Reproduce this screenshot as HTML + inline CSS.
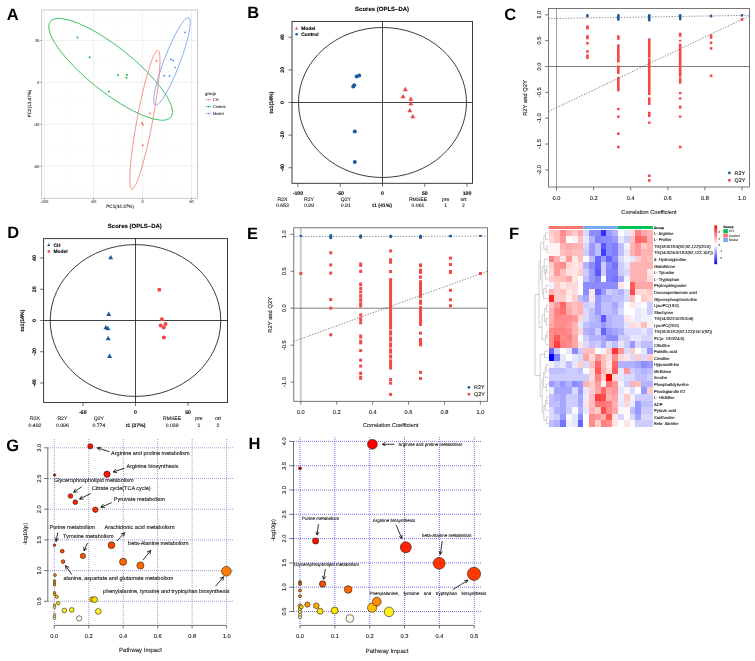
<!DOCTYPE html>
<html><head><meta charset="utf-8"><style>
html,body{margin:0;padding:0;background:#fff;}
svg{display:block;font-family:"Liberation Sans", sans-serif;will-change:transform;text-rendering:geometricPrecision;filter:blur(0.3px);}
</style></head><body>
<svg width="755" height="661" viewBox="0 0 755 661">
<rect x="0" y="0" width="755" height="661" fill="#fff"/>
<text transform="translate(6.8 19.95)" font-size="16.5" text-anchor="start" fill="#000" font-weight="bold">A</text>
<line x1="69" y1="10" x2="69" y2="198.3" stroke="#F4F4F4" stroke-width="0.5"/>
<line x1="118" y1="10" x2="118" y2="198.3" stroke="#F4F4F4" stroke-width="0.5"/>
<line x1="167" y1="10" x2="167" y2="198.3" stroke="#F4F4F4" stroke-width="0.5"/>
<line x1="41.7" y1="19.55" x2="197.6" y2="19.55" stroke="#F4F4F4" stroke-width="0.5"/>
<line x1="41.7" y1="61.45" x2="197.6" y2="61.45" stroke="#F4F4F4" stroke-width="0.5"/>
<line x1="41.7" y1="103.35" x2="197.6" y2="103.35" stroke="#F4F4F4" stroke-width="0.5"/>
<line x1="41.7" y1="145.25" x2="197.6" y2="145.25" stroke="#F4F4F4" stroke-width="0.5"/>
<line x1="41.7" y1="187.15" x2="197.6" y2="187.15" stroke="#F4F4F4" stroke-width="0.5"/>
<line x1="44.5" y1="10" x2="44.5" y2="198.3" stroke="#E6E6E6" stroke-width="0.6"/>
<line x1="93.5" y1="10" x2="93.5" y2="198.3" stroke="#E6E6E6" stroke-width="0.6"/>
<line x1="142.5" y1="10" x2="142.5" y2="198.3" stroke="#E6E6E6" stroke-width="0.6"/>
<line x1="191.5" y1="10" x2="191.5" y2="198.3" stroke="#E6E6E6" stroke-width="0.6"/>
<line x1="41.7" y1="40.5" x2="197.6" y2="40.5" stroke="#E6E6E6" stroke-width="0.6"/>
<line x1="41.7" y1="82.4" x2="197.6" y2="82.4" stroke="#E6E6E6" stroke-width="0.6"/>
<line x1="41.7" y1="124.3" x2="197.6" y2="124.3" stroke="#E6E6E6" stroke-width="0.6"/>
<line x1="41.7" y1="166.2" x2="197.6" y2="166.2" stroke="#E6E6E6" stroke-width="0.6"/>
<rect x="41.7" y="10" width="155.9" height="188.3" fill="none" stroke="#C4C4C4" stroke-width="0.9"/>
<line x1="44.5" y1="198.3" x2="44.5" y2="199.8" stroke="#555" stroke-width="0.5"/>
<text transform="translate(44.5 203.17) scale(0.1)" font-size="38" text-anchor="middle" fill="#4D4D4D" stroke="#4D4D4D" stroke-width="1">-100</text>
<line x1="93.5" y1="198.3" x2="93.5" y2="199.8" stroke="#555" stroke-width="0.5"/>
<text transform="translate(93.5 203.17) scale(0.1)" font-size="38" text-anchor="middle" fill="#4D4D4D" stroke="#4D4D4D" stroke-width="1">-50</text>
<line x1="142.5" y1="198.3" x2="142.5" y2="199.8" stroke="#555" stroke-width="0.5"/>
<text transform="translate(142.5 203.17) scale(0.1)" font-size="38" text-anchor="middle" fill="#4D4D4D" stroke="#4D4D4D" stroke-width="1">0</text>
<line x1="191.5" y1="198.3" x2="191.5" y2="199.8" stroke="#555" stroke-width="0.5"/>
<text transform="translate(191.5 203.17) scale(0.1)" font-size="38" text-anchor="middle" fill="#4D4D4D" stroke="#4D4D4D" stroke-width="1">50</text>
<line x1="40.2" y1="40.5" x2="41.7" y2="40.5" stroke="#555" stroke-width="0.5"/>
<text transform="translate(39.4 41.87) scale(0.1)" font-size="38" text-anchor="end" fill="#4D4D4D" stroke="#4D4D4D" stroke-width="1">25</text>
<line x1="40.2" y1="82.4" x2="41.7" y2="82.4" stroke="#555" stroke-width="0.5"/>
<text transform="translate(39.4 83.77) scale(0.1)" font-size="38" text-anchor="end" fill="#4D4D4D" stroke="#4D4D4D" stroke-width="1">0</text>
<line x1="40.2" y1="124.3" x2="41.7" y2="124.3" stroke="#555" stroke-width="0.5"/>
<text transform="translate(39.4 125.67) scale(0.1)" font-size="38" text-anchor="end" fill="#4D4D4D" stroke="#4D4D4D" stroke-width="1">-25</text>
<line x1="40.2" y1="166.2" x2="41.7" y2="166.2" stroke="#555" stroke-width="0.5"/>
<text transform="translate(39.4 167.57) scale(0.1)" font-size="38" text-anchor="end" fill="#4D4D4D" stroke="#4D4D4D" stroke-width="1">-50</text>
<text transform="translate(120.1 208.36) scale(0.1)" font-size="46" text-anchor="middle" fill="#222" stroke="#222" stroke-width="1">PC1(34.27%)</text>
<text transform="translate(31.46 103.5) rotate(-90) scale(0.1)" font-size="46" text-anchor="middle" fill="#222" stroke="#222" stroke-width="1">PC2(13.47%)</text>
<ellipse cx="110.6" cy="69.3" rx="76.9" ry="22.5" transform="rotate(38.45 110.6 69.3)" fill="none" stroke="#2DBE5A" stroke-width="0.85"/>
<ellipse cx="172" cy="61.5" rx="46.9" ry="7.9" transform="rotate(110.9 172 61.5)" fill="none" stroke="#6E9EF5" stroke-width="0.75"/>
<ellipse cx="144.9" cy="119.8" rx="70.8" ry="7.8" transform="rotate(100.6 144.9 119.8)" fill="none" stroke="#F47D74" stroke-width="0.75"/>
<circle cx="77.5" cy="37.4" r="0.95" fill="#19B449" stroke="none" stroke-width="0.5"/>
<circle cx="89.6" cy="57.2" r="0.95" fill="#19B449" stroke="none" stroke-width="0.5"/>
<circle cx="118" cy="75" r="0.95" fill="#19B449" stroke="none" stroke-width="0.5"/>
<circle cx="126.9" cy="75" r="0.95" fill="#19B449" stroke="none" stroke-width="0.5"/>
<circle cx="126.4" cy="77.8" r="0.95" fill="#19B449" stroke="none" stroke-width="0.5"/>
<circle cx="108.9" cy="91.6" r="0.95" fill="#19B449" stroke="none" stroke-width="0.5"/>
<circle cx="184.9" cy="32.4" r="0.95" fill="#5F97F5" stroke="none" stroke-width="0.5"/>
<circle cx="171" cy="59.3" r="0.95" fill="#5F97F5" stroke="none" stroke-width="0.5"/>
<circle cx="173.2" cy="60.5" r="0.95" fill="#5F97F5" stroke="none" stroke-width="0.5"/>
<circle cx="175.2" cy="67.6" r="0.95" fill="#5F97F5" stroke="none" stroke-width="0.5"/>
<circle cx="164.2" cy="75.7" r="0.95" fill="#5F97F5" stroke="none" stroke-width="0.5"/>
<circle cx="169.5" cy="76" r="0.95" fill="#5F97F5" stroke="none" stroke-width="0.5"/>
<circle cx="156.6" cy="61" r="0.95" fill="#F36B62" stroke="none" stroke-width="0.5"/>
<circle cx="149.9" cy="113.4" r="0.95" fill="#F36B62" stroke="none" stroke-width="0.5"/>
<circle cx="142" cy="123" r="0.95" fill="#F36B62" stroke="none" stroke-width="0.5"/>
<circle cx="143" cy="124.7" r="0.95" fill="#F36B62" stroke="none" stroke-width="0.5"/>
<circle cx="142.7" cy="145.3" r="0.95" fill="#F36B62" stroke="none" stroke-width="0.5"/>
<text transform="translate(205 94.65) scale(0.1)" font-size="43" text-anchor="start" fill="#222" stroke="#222" stroke-width="1">group</text>
<line x1="205.6" y1="99.7" x2="211.4" y2="99.7" stroke="#F8766D" stroke-width="0.6"/>
<circle cx="208.5" cy="99.7" r="0.8" fill="#F8766D" stroke="none" stroke-width="0.5"/>
<text transform="translate(212.9 101.1) scale(0.1)" font-size="39" text-anchor="start" fill="#333" stroke="#333" stroke-width="1">CH</text>
<line x1="205.6" y1="106.6" x2="211.4" y2="106.6" stroke="#00BA38" stroke-width="0.6"/>
<circle cx="208.5" cy="106.6" r="0.8" fill="#00BA38" stroke="none" stroke-width="0.5"/>
<text transform="translate(212.9 108) scale(0.1)" font-size="39" text-anchor="start" fill="#333" stroke="#333" stroke-width="1">Control</text>
<line x1="205.6" y1="113.6" x2="211.4" y2="113.6" stroke="#619CFF" stroke-width="0.6"/>
<circle cx="208.5" cy="113.6" r="0.8" fill="#619CFF" stroke="none" stroke-width="0.5"/>
<text transform="translate(212.9 115) scale(0.1)" font-size="39" text-anchor="start" fill="#333" stroke="#333" stroke-width="1">Model</text>
<text transform="translate(247.3 17.65)" font-size="16.5" text-anchor="start" fill="#000" font-weight="bold">B</text>
<text transform="translate(382.1 11.16) scale(0.1)" font-size="60" text-anchor="middle" fill="#000" font-weight="bold" stroke="#000" stroke-width="1">Scores (OPLS–DA)</text>
<rect x="292" y="21.5" width="180.5" height="161.8" fill="none" stroke="#333" stroke-width="0.95"/>
<ellipse cx="382.5" cy="102.5" rx="84" ry="75" fill="none" stroke="#1A1A1A" stroke-width="0.85"/>
<line x1="382.5" y1="21.5" x2="382.5" y2="183.3" stroke="#222" stroke-width="0.85"/>
<line x1="292" y1="102.5" x2="472.5" y2="102.5" stroke="#222" stroke-width="0.85"/>
<line x1="297.94" y1="183.3" x2="297.94" y2="186.8" stroke="#333" stroke-width="0.7"/>
<text transform="translate(297.94 194.97) scale(0.1)" font-size="52" text-anchor="middle" fill="#000" font-weight="bold" stroke="#000" stroke-width="1">-100</text>
<line x1="340.22" y1="183.3" x2="340.22" y2="186.8" stroke="#333" stroke-width="0.7"/>
<text transform="translate(340.22 194.97) scale(0.1)" font-size="52" text-anchor="middle" fill="#000" font-weight="bold" stroke="#000" stroke-width="1">-50</text>
<line x1="382.5" y1="183.3" x2="382.5" y2="186.8" stroke="#333" stroke-width="0.7"/>
<text transform="translate(382.5 194.97) scale(0.1)" font-size="52" text-anchor="middle" fill="#000" font-weight="bold" stroke="#000" stroke-width="1">0</text>
<line x1="424.78" y1="183.3" x2="424.78" y2="186.8" stroke="#333" stroke-width="0.7"/>
<text transform="translate(424.78 194.97) scale(0.1)" font-size="52" text-anchor="middle" fill="#000" font-weight="bold" stroke="#000" stroke-width="1">50</text>
<line x1="467.06" y1="183.3" x2="467.06" y2="186.8" stroke="#333" stroke-width="0.7"/>
<text transform="translate(467.06 194.97) scale(0.1)" font-size="52" text-anchor="middle" fill="#000" font-weight="bold" stroke="#000" stroke-width="1">100</text>
<line x1="288.5" y1="37.22" x2="292" y2="37.22" stroke="#333" stroke-width="0.7"/>
<text transform="translate(284.47 37.22) rotate(-90) scale(0.1)" font-size="52" text-anchor="middle" fill="#000" font-weight="bold" stroke="#000" stroke-width="1">40</text>
<line x1="288.5" y1="69.86" x2="292" y2="69.86" stroke="#333" stroke-width="0.7"/>
<text transform="translate(284.47 69.86) rotate(-90) scale(0.1)" font-size="52" text-anchor="middle" fill="#000" font-weight="bold" stroke="#000" stroke-width="1">20</text>
<line x1="288.5" y1="102.5" x2="292" y2="102.5" stroke="#333" stroke-width="0.7"/>
<text transform="translate(284.47 102.5) rotate(-90) scale(0.1)" font-size="52" text-anchor="middle" fill="#000" font-weight="bold" stroke="#000" stroke-width="1">0</text>
<line x1="288.5" y1="135.14" x2="292" y2="135.14" stroke="#333" stroke-width="0.7"/>
<text transform="translate(284.47 135.14) rotate(-90) scale(0.1)" font-size="52" text-anchor="middle" fill="#000" font-weight="bold" stroke="#000" stroke-width="1">-20</text>
<line x1="288.5" y1="167.78" x2="292" y2="167.78" stroke="#333" stroke-width="0.7"/>
<text transform="translate(284.47 167.78) rotate(-90) scale(0.1)" font-size="52" text-anchor="middle" fill="#000" font-weight="bold" stroke="#000" stroke-width="1">-40</text>
<text transform="translate(272.81 102.5) rotate(-90) scale(0.1)" font-size="53" text-anchor="middle" fill="#000" font-weight="bold" stroke="#000" stroke-width="1">to1(14%)</text>
<circle cx="359.2" cy="75.4" r="2" fill="#1A5B9C" stroke="none" stroke-width="0.5"/>
<circle cx="356.6" cy="76.4" r="2" fill="#1A5B9C" stroke="none" stroke-width="0.5"/>
<circle cx="354.2" cy="85.2" r="2" fill="#1A5B9C" stroke="none" stroke-width="0.5"/>
<circle cx="353.2" cy="86.6" r="2" fill="#1A5B9C" stroke="none" stroke-width="0.5"/>
<circle cx="354.8" cy="131.5" r="2" fill="#1A5B9C" stroke="none" stroke-width="0.5"/>
<circle cx="354.8" cy="162.1" r="2" fill="#1A5B9C" stroke="none" stroke-width="0.5"/>
<polygon points="405.4,86.8 402.9,91.13 407.9,91.13" fill="#F04646"/>
<polygon points="403.1,94 400.6,98.33 405.6,98.33" fill="#F04646"/>
<polygon points="410.8,96.4 408.3,100.73 413.3,100.73" fill="#F04646"/>
<polygon points="410.8,101 408.3,105.33 413.3,105.33" fill="#F04646"/>
<polygon points="409.8,108 407.3,112.33 412.3,112.33" fill="#F04646"/>
<polygon points="412.8,114 410.3,118.33 415.3,118.33" fill="#F04646"/>
<polygon points="296.6,26.64 295,29.41 298.2,29.41" fill="#F04646"/>
<text transform="translate(301.2 30.06) scale(0.1)" font-size="49" text-anchor="start" fill="#000" font-weight="bold" stroke="#000" stroke-width="1">Model</text>
<circle cx="296.6" cy="34.3" r="1.3" fill="#1A5B9C" stroke="none" stroke-width="0.5"/>
<text transform="translate(301.2 36.06) scale(0.1)" font-size="49" text-anchor="start" fill="#000" font-weight="bold" stroke="#000" stroke-width="1">Control</text>
<text transform="translate(282.5 200.64) scale(0.1)" font-size="51" text-anchor="middle" fill="#111" stroke="#111" stroke-width="1">R2X</text>
<text transform="translate(282.5 207.34) scale(0.1)" font-size="51" text-anchor="middle" fill="#111" stroke="#111" stroke-width="1">0.653</text>
<text transform="translate(309 200.64) scale(0.1)" font-size="51" text-anchor="middle" fill="#111" stroke="#111" stroke-width="1">R2Y</text>
<text transform="translate(309 207.34) scale(0.1)" font-size="51" text-anchor="middle" fill="#111" stroke="#111" stroke-width="1">0.99</text>
<text transform="translate(345.8 200.64) scale(0.1)" font-size="51" text-anchor="middle" fill="#111" stroke="#111" stroke-width="1">Q2Y</text>
<text transform="translate(345.8 207.34) scale(0.1)" font-size="51" text-anchor="middle" fill="#111" stroke="#111" stroke-width="1">0.91</text>
<text transform="translate(382.1 207.34) scale(0.1)" font-size="51" text-anchor="middle" fill="#111" font-weight="bold" stroke="#111" stroke-width="1">t1 (41%)</text>
<text transform="translate(418 200.64) scale(0.1)" font-size="51" text-anchor="middle" fill="#111" stroke="#111" stroke-width="1">RMSEE</text>
<text transform="translate(418 207.34) scale(0.1)" font-size="51" text-anchor="middle" fill="#111" stroke="#111" stroke-width="1">0.061</text>
<text transform="translate(445.6 200.64) scale(0.1)" font-size="51" text-anchor="middle" fill="#111" stroke="#111" stroke-width="1">pre</text>
<text transform="translate(445.6 207.34) scale(0.1)" font-size="51" text-anchor="middle" fill="#111" stroke="#111" stroke-width="1">1</text>
<text transform="translate(463.5 200.64) scale(0.1)" font-size="51" text-anchor="middle" fill="#111" stroke="#111" stroke-width="1">ort</text>
<text transform="translate(463.5 207.34) scale(0.1)" font-size="51" text-anchor="middle" fill="#111" stroke="#111" stroke-width="1">2</text>
<text transform="translate(7.3 237.95)" font-size="16.5" text-anchor="start" fill="#000" font-weight="bold">D</text>
<text transform="translate(134.8 228.16) scale(0.1)" font-size="60" text-anchor="middle" fill="#000" font-weight="bold" stroke="#000" stroke-width="1">Scores (OPLS–DA)</text>
<rect x="43.6" y="238.6" width="183.9" height="163.9" fill="none" stroke="#333" stroke-width="0.95"/>
<ellipse cx="135.5" cy="320.5" rx="85.3" ry="75.9" fill="none" stroke="#1A1A1A" stroke-width="0.85"/>
<line x1="135.5" y1="238.6" x2="135.5" y2="402.5" stroke="#222" stroke-width="0.85"/>
<line x1="43.6" y1="320.5" x2="227.5" y2="320.5" stroke="#222" stroke-width="0.85"/>
<line x1="82.9" y1="402.5" x2="82.9" y2="406" stroke="#333" stroke-width="0.7"/>
<text transform="translate(82.9 413.87) scale(0.1)" font-size="52" text-anchor="middle" fill="#000" font-weight="bold" stroke="#000" stroke-width="1">-50</text>
<line x1="135.5" y1="402.5" x2="135.5" y2="406" stroke="#333" stroke-width="0.7"/>
<text transform="translate(135.5 413.87) scale(0.1)" font-size="52" text-anchor="middle" fill="#000" font-weight="bold" stroke="#000" stroke-width="1">0</text>
<line x1="188.1" y1="402.5" x2="188.1" y2="406" stroke="#333" stroke-width="0.7"/>
<text transform="translate(188.1 413.87) scale(0.1)" font-size="52" text-anchor="middle" fill="#000" font-weight="bold" stroke="#000" stroke-width="1">50</text>
<line x1="40.1" y1="258" x2="43.6" y2="258" stroke="#333" stroke-width="0.7"/>
<text transform="translate(36.27 258) rotate(-90) scale(0.1)" font-size="52" text-anchor="middle" fill="#000" font-weight="bold" stroke="#000" stroke-width="1">40</text>
<line x1="40.1" y1="289.25" x2="43.6" y2="289.25" stroke="#333" stroke-width="0.7"/>
<text transform="translate(36.27 289.25) rotate(-90) scale(0.1)" font-size="52" text-anchor="middle" fill="#000" font-weight="bold" stroke="#000" stroke-width="1">20</text>
<line x1="40.1" y1="320.5" x2="43.6" y2="320.5" stroke="#333" stroke-width="0.7"/>
<text transform="translate(36.27 320.5) rotate(-90) scale(0.1)" font-size="52" text-anchor="middle" fill="#000" font-weight="bold" stroke="#000" stroke-width="1">0</text>
<line x1="40.1" y1="351.75" x2="43.6" y2="351.75" stroke="#333" stroke-width="0.7"/>
<text transform="translate(36.27 351.75) rotate(-90) scale(0.1)" font-size="52" text-anchor="middle" fill="#000" font-weight="bold" stroke="#000" stroke-width="1">-20</text>
<line x1="40.1" y1="383" x2="43.6" y2="383" stroke="#333" stroke-width="0.7"/>
<text transform="translate(36.27 383) rotate(-90) scale(0.1)" font-size="52" text-anchor="middle" fill="#000" font-weight="bold" stroke="#000" stroke-width="1">-40</text>
<text transform="translate(23.71 320.5) rotate(-90) scale(0.1)" font-size="53" text-anchor="middle" fill="#000" font-weight="bold" stroke="#000" stroke-width="1">to1(14%)</text>
<circle cx="159.3" cy="289.8" r="2" fill="#F04646" stroke="none" stroke-width="0.5"/>
<circle cx="161.9" cy="319.3" r="2" fill="#F04646" stroke="none" stroke-width="0.5"/>
<circle cx="160.7" cy="325.4" r="2" fill="#F04646" stroke="none" stroke-width="0.5"/>
<circle cx="165.5" cy="324" r="2" fill="#F04646" stroke="none" stroke-width="0.5"/>
<circle cx="163.8" cy="327.4" r="2" fill="#F04646" stroke="none" stroke-width="0.5"/>
<circle cx="163.8" cy="337.4" r="2" fill="#F04646" stroke="none" stroke-width="0.5"/>
<polygon points="110.7,254.9 108.2,259.23 113.2,259.23" fill="#1A5B9C"/>
<polygon points="108.7,311.6 106.2,315.93 111.2,315.93" fill="#1A5B9C"/>
<polygon points="105.9,325 103.4,329.33 108.4,329.33" fill="#1A5B9C"/>
<polygon points="107.9,325.8 105.4,330.13 110.4,330.13" fill="#1A5B9C"/>
<polygon points="108.2,335.8 105.7,340.13 110.7,340.13" fill="#1A5B9C"/>
<polygon points="109.6,353.6 107.1,357.93 112.1,357.93" fill="#1A5B9C"/>
<polygon points="48.8,243.34 47.2,246.11 50.4,246.11" fill="#1A5B9C"/>
<text transform="translate(53.4 246.76) scale(0.1)" font-size="49" text-anchor="start" fill="#000" font-weight="bold" stroke="#000" stroke-width="1">CH</text>
<circle cx="48.8" cy="251.4" r="1.3" fill="#F04646" stroke="none" stroke-width="0.5"/>
<text transform="translate(53.4 253.16) scale(0.1)" font-size="49" text-anchor="start" fill="#000" font-weight="bold" stroke="#000" stroke-width="1">Model</text>
<text transform="translate(35 419.84) scale(0.1)" font-size="51" text-anchor="middle" fill="#111" stroke="#111" stroke-width="1">R2X</text>
<text transform="translate(35 426.54) scale(0.1)" font-size="51" text-anchor="middle" fill="#111" stroke="#111" stroke-width="1">0.492</text>
<text transform="translate(62.4 419.84) scale(0.1)" font-size="51" text-anchor="middle" fill="#111" stroke="#111" stroke-width="1">R2Y</text>
<text transform="translate(62.4 426.54) scale(0.1)" font-size="51" text-anchor="middle" fill="#111" stroke="#111" stroke-width="1">0.996</text>
<text transform="translate(98.9 419.84) scale(0.1)" font-size="51" text-anchor="middle" fill="#111" stroke="#111" stroke-width="1">Q2Y</text>
<text transform="translate(98.9 426.54) scale(0.1)" font-size="51" text-anchor="middle" fill="#111" stroke="#111" stroke-width="1">0.774</text>
<text transform="translate(135.7 426.54) scale(0.1)" font-size="51" text-anchor="middle" fill="#111" font-weight="bold" stroke="#111" stroke-width="1">t1 (27%)</text>
<text transform="translate(172.1 419.84) scale(0.1)" font-size="51" text-anchor="middle" fill="#111" stroke="#111" stroke-width="1">RMSEE</text>
<text transform="translate(172.1 426.54) scale(0.1)" font-size="51" text-anchor="middle" fill="#111" stroke="#111" stroke-width="1">0.039</text>
<text transform="translate(199 419.84) scale(0.1)" font-size="51" text-anchor="middle" fill="#111" stroke="#111" stroke-width="1">pre</text>
<text transform="translate(199 426.54) scale(0.1)" font-size="51" text-anchor="middle" fill="#111" stroke="#111" stroke-width="1">1</text>
<text transform="translate(218 419.84) scale(0.1)" font-size="51" text-anchor="middle" fill="#111" stroke="#111" stroke-width="1">ort</text>
<text transform="translate(218 426.54) scale(0.1)" font-size="51" text-anchor="middle" fill="#111" stroke="#111" stroke-width="1">2</text>
<text transform="translate(504.3 19.65)" font-size="16.5" text-anchor="start" fill="#000" font-weight="bold">C</text>
<line x1="556.5" y1="8.5" x2="556.5" y2="187" stroke="#777" stroke-width="0.7"/>
<line x1="548.5" y1="66.5" x2="749.5" y2="66.5" stroke="#555" stroke-width="0.75"/>
<line x1="548.5" y1="18.57" x2="749.5" y2="15.32" stroke="#666" stroke-width="0.75" stroke-dasharray="1.3,1.5"/>
<line x1="548.5" y1="111.48" x2="749.5" y2="15.83" stroke="#555" stroke-width="0.75" stroke-dasharray="1.3,1.5"/>
<rect x="548.5" y="8.5" width="201" height="178.5" fill="none" stroke="#555" stroke-width="0.8"/>
<line x1="556.5" y1="187" x2="556.5" y2="190.4" stroke="#444" stroke-width="0.7"/>
<text transform="translate(556.5 200.15) scale(0.1)" font-size="57" text-anchor="middle" fill="#222" stroke="#222" stroke-width="1">0.0</text>
<line x1="593.6" y1="187" x2="593.6" y2="190.4" stroke="#444" stroke-width="0.7"/>
<text transform="translate(593.6 200.15) scale(0.1)" font-size="57" text-anchor="middle" fill="#222" stroke="#222" stroke-width="1">0.2</text>
<line x1="630.7" y1="187" x2="630.7" y2="190.4" stroke="#444" stroke-width="0.7"/>
<text transform="translate(630.7 200.15) scale(0.1)" font-size="57" text-anchor="middle" fill="#222" stroke="#222" stroke-width="1">0.4</text>
<line x1="667.8" y1="187" x2="667.8" y2="190.4" stroke="#444" stroke-width="0.7"/>
<text transform="translate(667.8 200.15) scale(0.1)" font-size="57" text-anchor="middle" fill="#222" stroke="#222" stroke-width="1">0.6</text>
<line x1="704.9" y1="187" x2="704.9" y2="190.4" stroke="#444" stroke-width="0.7"/>
<text transform="translate(704.9 200.15) scale(0.1)" font-size="57" text-anchor="middle" fill="#222" stroke="#222" stroke-width="1">0.8</text>
<line x1="742" y1="187" x2="742" y2="190.4" stroke="#444" stroke-width="0.7"/>
<text transform="translate(742 200.15) scale(0.1)" font-size="57" text-anchor="middle" fill="#222" stroke="#222" stroke-width="1">1.0</text>
<line x1="545.1" y1="14.8" x2="548.5" y2="14.8" stroke="#444" stroke-width="0.7"/>
<text transform="translate(541.05 14.8) rotate(-90) scale(0.1)" font-size="57" text-anchor="middle" fill="#222" stroke="#222" stroke-width="1">1.0</text>
<line x1="545.1" y1="40.65" x2="548.5" y2="40.65" stroke="#444" stroke-width="0.7"/>
<text transform="translate(541.05 40.65) rotate(-90) scale(0.1)" font-size="57" text-anchor="middle" fill="#222" stroke="#222" stroke-width="1">0.5</text>
<line x1="545.1" y1="66.5" x2="548.5" y2="66.5" stroke="#444" stroke-width="0.7"/>
<text transform="translate(541.05 66.5) rotate(-90) scale(0.1)" font-size="57" text-anchor="middle" fill="#222" stroke="#222" stroke-width="1">0.0</text>
<line x1="545.1" y1="92.35" x2="548.5" y2="92.35" stroke="#444" stroke-width="0.7"/>
<text transform="translate(541.05 92.35) rotate(-90) scale(0.1)" font-size="57" text-anchor="middle" fill="#222" stroke="#222" stroke-width="1">-0.5</text>
<line x1="545.1" y1="118.2" x2="548.5" y2="118.2" stroke="#444" stroke-width="0.7"/>
<text transform="translate(541.05 118.2) rotate(-90) scale(0.1)" font-size="57" text-anchor="middle" fill="#222" stroke="#222" stroke-width="1">-1.0</text>
<line x1="545.1" y1="144.05" x2="548.5" y2="144.05" stroke="#444" stroke-width="0.7"/>
<text transform="translate(541.05 144.05) rotate(-90) scale(0.1)" font-size="57" text-anchor="middle" fill="#222" stroke="#222" stroke-width="1">-1.5</text>
<line x1="545.1" y1="169.9" x2="548.5" y2="169.9" stroke="#444" stroke-width="0.7"/>
<text transform="translate(541.05 169.9) rotate(-90) scale(0.1)" font-size="57" text-anchor="middle" fill="#222" stroke="#222" stroke-width="1">-2.0</text>
<text transform="translate(527.19 98) rotate(-90) scale(0.1)" font-size="58" text-anchor="middle" fill="#222" stroke="#222" stroke-width="1">R2Y and Q2Y</text>
<text transform="translate(649 213.62) scale(0.1)" font-size="56" text-anchor="middle" fill="#222" stroke="#222" stroke-width="1">Correlation Coefficient</text>
<rect x="586.12" y="25.39" width="2.6" height="2.6" fill="#F24848" stroke="none" stroke-width="0.8"/>
<rect x="586.12" y="26.94" width="2.6" height="2.6" fill="#F24848" stroke="none" stroke-width="0.8"/>
<rect x="586.12" y="35.21" width="2.6" height="2.6" fill="#F24848" stroke="none" stroke-width="0.8"/>
<rect x="586.12" y="36.77" width="2.6" height="2.6" fill="#F24848" stroke="none" stroke-width="0.8"/>
<rect x="586.12" y="41.94" width="2.6" height="2.6" fill="#F24848" stroke="none" stroke-width="0.8"/>
<rect x="586.12" y="50.21" width="2.6" height="2.6" fill="#F24848" stroke="none" stroke-width="0.8"/>
<rect x="586.12" y="54.34" width="2.6" height="2.6" fill="#F24848" stroke="none" stroke-width="0.8"/>
<rect x="586.12" y="56.41" width="2.6" height="2.6" fill="#F24848" stroke="none" stroke-width="0.8"/>
<rect x="617.03" y="35.3" width="2.6" height="4.5" fill="#F24848" stroke="none" stroke-width="0.8"/>
<rect x="617.03" y="44.4" width="2.6" height="18.1" fill="#F24848" stroke="none" stroke-width="0.8"/>
<rect x="617.03" y="65.5" width="2.6" height="8.4" fill="#F24848" stroke="none" stroke-width="0.8"/>
<rect x="617.03" y="76.9" width="2.6" height="14.4" fill="#F24848" stroke="none" stroke-width="0.8"/>
<rect x="617.03" y="107.9" width="2.6" height="2.3" fill="#F24848" stroke="none" stroke-width="0.8"/>
<rect x="617.03" y="115.5" width="2.6" height="2.3" fill="#F24848" stroke="none" stroke-width="0.8"/>
<rect x="617.03" y="132.4" width="2.6" height="2.6" fill="#F24848" stroke="none" stroke-width="0.8"/>
<rect x="617.03" y="145.7" width="2.6" height="2.6" fill="#F24848" stroke="none" stroke-width="0.8"/>
<rect x="647.95" y="38.3" width="2.6" height="19.5" fill="#F24848" stroke="none" stroke-width="0.8"/>
<rect x="647.95" y="58.3" width="2.6" height="36.7" fill="#F24848" stroke="none" stroke-width="0.8"/>
<rect x="647.95" y="97.3" width="2.6" height="7.6" fill="#F24848" stroke="none" stroke-width="0.8"/>
<rect x="647.95" y="111.7" width="2.6" height="5.3" fill="#F24848" stroke="none" stroke-width="0.8"/>
<rect x="647.95" y="121.5" width="2.6" height="2.3" fill="#F24848" stroke="none" stroke-width="0.8"/>
<rect x="647.95" y="174.4" width="2.6" height="2.6" fill="#F24848" stroke="none" stroke-width="0.8"/>
<rect x="647.95" y="179.1" width="2.6" height="2.6" fill="#F24848" stroke="none" stroke-width="0.8"/>
<rect x="678.87" y="32.7" width="2.6" height="4.1" fill="#F24848" stroke="none" stroke-width="0.8"/>
<rect x="678.87" y="39.8" width="2.6" height="1.7" fill="#F24848" stroke="none" stroke-width="0.8"/>
<rect x="678.87" y="43.6" width="2.6" height="33.3" fill="#F24848" stroke="none" stroke-width="0.8"/>
<rect x="678.87" y="77.5" width="2.6" height="6.2" fill="#F24848" stroke="none" stroke-width="0.8"/>
<rect x="678.87" y="92" width="2.6" height="2.3" fill="#F24848" stroke="none" stroke-width="0.8"/>
<rect x="678.87" y="97.3" width="2.6" height="2.3" fill="#F24848" stroke="none" stroke-width="0.8"/>
<rect x="678.87" y="105.6" width="2.6" height="3.1" fill="#F24848" stroke="none" stroke-width="0.8"/>
<rect x="678.87" y="115.5" width="2.6" height="2.2" fill="#F24848" stroke="none" stroke-width="0.8"/>
<rect x="678.87" y="145.7" width="2.6" height="2.6" fill="#F24848" stroke="none" stroke-width="0.8"/>
<rect x="709.78" y="34.4" width="2.6" height="4.4" fill="#F24848" stroke="none" stroke-width="0.8"/>
<rect x="709.78" y="41.5" width="2.6" height="2.6" fill="#F24848" stroke="none" stroke-width="0.8"/>
<rect x="709.78" y="47.1" width="2.6" height="2.6" fill="#F24848" stroke="none" stroke-width="0.8"/>
<rect x="709.78" y="74.5" width="2.6" height="2.6" fill="#F24848" stroke="none" stroke-width="0.8"/>
<rect x="740.7" y="18.2" width="2.6" height="2.6" fill="#F24848" stroke="none" stroke-width="0.8"/>
<rect x="586.12" y="13.9" width="2.6" height="3.7" rx="1.3" fill="#1F5C99"/>
<rect x="617.03" y="14" width="2.6" height="6.9" rx="1.3" fill="#1F5C99"/>
<rect x="647.95" y="14" width="2.6" height="7.6" rx="1.3" fill="#1F5C99"/>
<rect x="678.87" y="14" width="2.6" height="6.4" rx="1.3" fill="#1F5C99"/>
<rect x="709.78" y="14.4" width="2.6" height="3.2" rx="1.3" fill="#1F5C99"/>
<rect x="740.7" y="14" width="2.6" height="2.8" rx="1.3" fill="#1F5C99"/>
<circle cx="729.4" cy="172.9" r="1.4" fill="#1F5C99" stroke="none" stroke-width="0.5"/>
<rect x="728.1" y="179" width="2.6" height="2.6" fill="#F24848" stroke="none" stroke-width="0.8"/>
<text transform="translate(734.6 174.81) scale(0.1)" font-size="53" text-anchor="start" fill="#222" stroke="#222" stroke-width="1">R2Y</text>
<text transform="translate(734.6 182.21) scale(0.1)" font-size="53" text-anchor="start" fill="#222" stroke="#222" stroke-width="1">Q2Y</text>
<text transform="translate(247 239.45)" font-size="16.5" text-anchor="start" fill="#000" font-weight="bold">E</text>
<line x1="300.8" y1="227.8" x2="300.8" y2="401.3" stroke="#C8C8C8" stroke-width="1.8"/>
<line x1="293.8" y1="308.2" x2="487.5" y2="308.2" stroke="#555" stroke-width="0.75"/>
<line x1="293.8" y1="236.66" x2="487.5" y2="236.15" stroke="#666" stroke-width="0.75" stroke-dasharray="1.3,1.5"/>
<line x1="293.8" y1="341.38" x2="487.5" y2="271.25" stroke="#555" stroke-width="0.75" stroke-dasharray="1.3,1.5"/>
<rect x="293.8" y="227.8" width="193.7" height="173.5" fill="none" stroke="#555" stroke-width="0.8"/>
<line x1="300.8" y1="401.3" x2="300.8" y2="404.7" stroke="#444" stroke-width="0.7"/>
<text transform="translate(300.8 413.85) scale(0.1)" font-size="57" text-anchor="middle" fill="#222" stroke="#222" stroke-width="1">0.0</text>
<line x1="336.72" y1="401.3" x2="336.72" y2="404.7" stroke="#444" stroke-width="0.7"/>
<text transform="translate(336.72 413.85) scale(0.1)" font-size="57" text-anchor="middle" fill="#222" stroke="#222" stroke-width="1">0.2</text>
<line x1="372.64" y1="401.3" x2="372.64" y2="404.7" stroke="#444" stroke-width="0.7"/>
<text transform="translate(372.64 413.85) scale(0.1)" font-size="57" text-anchor="middle" fill="#222" stroke="#222" stroke-width="1">0.4</text>
<line x1="408.56" y1="401.3" x2="408.56" y2="404.7" stroke="#444" stroke-width="0.7"/>
<text transform="translate(408.56 413.85) scale(0.1)" font-size="57" text-anchor="middle" fill="#222" stroke="#222" stroke-width="1">0.6</text>
<line x1="444.48" y1="401.3" x2="444.48" y2="404.7" stroke="#444" stroke-width="0.7"/>
<text transform="translate(444.48 413.85) scale(0.1)" font-size="57" text-anchor="middle" fill="#222" stroke="#222" stroke-width="1">0.8</text>
<line x1="480.4" y1="401.3" x2="480.4" y2="404.7" stroke="#444" stroke-width="0.7"/>
<text transform="translate(480.4 413.85) scale(0.1)" font-size="57" text-anchor="middle" fill="#222" stroke="#222" stroke-width="1">1.0</text>
<line x1="290.4" y1="234.3" x2="293.8" y2="234.3" stroke="#444" stroke-width="0.7"/>
<text transform="translate(286.15 234.3) rotate(-90) scale(0.1)" font-size="57" text-anchor="middle" fill="#222" stroke="#222" stroke-width="1">1.0</text>
<line x1="290.4" y1="271.25" x2="293.8" y2="271.25" stroke="#444" stroke-width="0.7"/>
<text transform="translate(286.15 271.25) rotate(-90) scale(0.1)" font-size="57" text-anchor="middle" fill="#222" stroke="#222" stroke-width="1">0.5</text>
<line x1="290.4" y1="308.2" x2="293.8" y2="308.2" stroke="#444" stroke-width="0.7"/>
<text transform="translate(286.15 308.2) rotate(-90) scale(0.1)" font-size="57" text-anchor="middle" fill="#222" stroke="#222" stroke-width="1">0.0</text>
<line x1="290.4" y1="345.15" x2="293.8" y2="345.15" stroke="#444" stroke-width="0.7"/>
<text transform="translate(286.15 345.15) rotate(-90) scale(0.1)" font-size="57" text-anchor="middle" fill="#222" stroke="#222" stroke-width="1">-0.5</text>
<line x1="290.4" y1="382.1" x2="293.8" y2="382.1" stroke="#444" stroke-width="0.7"/>
<text transform="translate(286.15 382.1) rotate(-90) scale(0.1)" font-size="57" text-anchor="middle" fill="#222" stroke="#222" stroke-width="1">-1.0</text>
<text transform="translate(272.49 314.8) rotate(-90) scale(0.1)" font-size="58" text-anchor="middle" fill="#222" stroke="#222" stroke-width="1">R2Y and Q2Y</text>
<text transform="translate(390.65 427.02) scale(0.1)" font-size="56" text-anchor="middle" fill="#222" stroke="#222" stroke-width="1">Correlation Coefficient</text>
<rect x="299.3" y="271.97" width="3" height="3" fill="#F24848" stroke="none" stroke-width="0.8"/>
<rect x="329.23" y="251.27" width="3" height="3" fill="#F24848" stroke="none" stroke-width="0.8"/>
<rect x="329.23" y="263.47" width="3" height="3" fill="#F24848" stroke="none" stroke-width="0.8"/>
<rect x="329.23" y="271.6" width="3" height="3" fill="#F24848" stroke="none" stroke-width="0.8"/>
<rect x="329.23" y="298.05" width="3" height="3" fill="#F24848" stroke="none" stroke-width="0.8"/>
<rect x="329.23" y="306.7" width="3" height="3" fill="#F24848" stroke="none" stroke-width="0.8"/>
<rect x="329.23" y="333.3" width="3" height="3" fill="#F24848" stroke="none" stroke-width="0.8"/>
<rect x="359.17" y="262.5" width="3" height="4.4" fill="#F24848" stroke="none" stroke-width="0.8"/>
<rect x="359.17" y="269.8" width="3" height="3.1" fill="#F24848" stroke="none" stroke-width="0.8"/>
<rect x="359.17" y="282.6" width="3" height="3.4" fill="#F24848" stroke="none" stroke-width="0.8"/>
<rect x="359.17" y="286.8" width="3" height="3.5" fill="#F24848" stroke="none" stroke-width="0.8"/>
<rect x="359.17" y="290.7" width="3" height="2.7" fill="#F24848" stroke="none" stroke-width="0.8"/>
<rect x="359.17" y="294.2" width="3" height="3.5" fill="#F24848" stroke="none" stroke-width="0.8"/>
<rect x="359.17" y="298.1" width="3" height="3.8" fill="#F24848" stroke="none" stroke-width="0.8"/>
<rect x="359.17" y="302.3" width="3" height="5.1" fill="#F24848" stroke="none" stroke-width="0.8"/>
<rect x="359.17" y="313.4" width="3" height="3.3" fill="#F24848" stroke="none" stroke-width="0.8"/>
<rect x="359.17" y="317.4" width="3" height="3.6" fill="#F24848" stroke="none" stroke-width="0.8"/>
<rect x="359.17" y="321.2" width="3" height="3.1" fill="#F24848" stroke="none" stroke-width="0.8"/>
<rect x="359.17" y="334.5" width="3" height="4.1" fill="#F24848" stroke="none" stroke-width="0.8"/>
<rect x="359.17" y="339.8" width="3" height="4.5" fill="#F24848" stroke="none" stroke-width="0.8"/>
<rect x="359.17" y="349.1" width="3" height="3" fill="#F24848" stroke="none" stroke-width="0.8"/>
<rect x="359.17" y="358.7" width="3" height="3" fill="#F24848" stroke="none" stroke-width="0.8"/>
<rect x="359.17" y="364.6" width="3" height="3" fill="#F24848" stroke="none" stroke-width="0.8"/>
<rect x="359.17" y="371.6" width="3" height="3.4" fill="#F24848" stroke="none" stroke-width="0.8"/>
<rect x="359.17" y="375.8" width="3" height="4" fill="#F24848" stroke="none" stroke-width="0.8"/>
<rect x="389.1" y="249.4" width="3" height="3" fill="#F24848" stroke="none" stroke-width="0.8"/>
<rect x="389.1" y="258.3" width="3" height="3" fill="#F24848" stroke="none" stroke-width="0.8"/>
<rect x="389.1" y="260.8" width="3" height="3" fill="#F24848" stroke="none" stroke-width="0.8"/>
<rect x="389.1" y="270" width="3" height="3" fill="#F24848" stroke="none" stroke-width="0.8"/>
<rect x="389.1" y="278.2" width="3" height="51.3" fill="#F24848" stroke="none" stroke-width="0.8"/>
<rect x="389.1" y="330.3" width="3" height="5.3" fill="#F24848" stroke="none" stroke-width="0.8"/>
<rect x="389.1" y="336.4" width="3" height="5.2" fill="#F24848" stroke="none" stroke-width="0.8"/>
<rect x="389.1" y="342.4" width="3" height="5.3" fill="#F24848" stroke="none" stroke-width="0.8"/>
<rect x="389.1" y="348.5" width="3" height="5.2" fill="#F24848" stroke="none" stroke-width="0.8"/>
<rect x="389.1" y="354.5" width="3" height="4.1" fill="#F24848" stroke="none" stroke-width="0.8"/>
<rect x="389.1" y="359.4" width="3" height="10.1" fill="#F24848" stroke="none" stroke-width="0.8"/>
<rect x="389.1" y="378.1" width="3" height="3" fill="#F24848" stroke="none" stroke-width="0.8"/>
<rect x="389.1" y="381.7" width="3" height="3" fill="#F24848" stroke="none" stroke-width="0.8"/>
<rect x="389.1" y="392.9" width="3" height="3" fill="#F24848" stroke="none" stroke-width="0.8"/>
<rect x="419.03" y="263.4" width="3" height="3.7" fill="#F24848" stroke="none" stroke-width="0.8"/>
<rect x="419.03" y="268.6" width="3" height="5.3" fill="#F24848" stroke="none" stroke-width="0.8"/>
<rect x="419.03" y="275.4" width="3" height="3.3" fill="#F24848" stroke="none" stroke-width="0.8"/>
<rect x="419.03" y="280.2" width="3" height="17.9" fill="#F24848" stroke="none" stroke-width="0.8"/>
<rect x="419.03" y="299.6" width="3" height="5.2" fill="#F24848" stroke="none" stroke-width="0.8"/>
<rect x="419.03" y="306.1" width="3" height="19.8" fill="#F24848" stroke="none" stroke-width="0.8"/>
<rect x="419.03" y="331.7" width="3" height="3" fill="#F24848" stroke="none" stroke-width="0.8"/>
<rect x="419.03" y="338" width="3" height="3" fill="#F24848" stroke="none" stroke-width="0.8"/>
<rect x="419.03" y="341" width="3" height="3" fill="#F24848" stroke="none" stroke-width="0.8"/>
<rect x="419.03" y="343.3" width="3" height="3" fill="#F24848" stroke="none" stroke-width="0.8"/>
<rect x="419.03" y="370.9" width="3" height="3" fill="#F24848" stroke="none" stroke-width="0.8"/>
<rect x="419.03" y="376.9" width="3" height="3" fill="#F24848" stroke="none" stroke-width="0.8"/>
<rect x="448.97" y="256.6" width="3" height="3" fill="#F24848" stroke="none" stroke-width="0.8"/>
<rect x="448.97" y="263" width="3" height="3" fill="#F24848" stroke="none" stroke-width="0.8"/>
<rect x="448.97" y="270" width="3" height="3.9" fill="#F24848" stroke="none" stroke-width="0.8"/>
<rect x="448.97" y="288.8" width="3" height="3" fill="#F24848" stroke="none" stroke-width="0.8"/>
<rect x="448.97" y="298.3" width="3" height="3" fill="#F24848" stroke="none" stroke-width="0.8"/>
<rect x="448.97" y="304.3" width="3" height="3" fill="#F24848" stroke="none" stroke-width="0.8"/>
<rect x="478.9" y="271.97" width="3" height="3" fill="#F24848" stroke="none" stroke-width="0.8"/>
<rect x="299.3" y="234.8" width="3" height="2.1" rx="1.5" fill="#1F5C99"/>
<rect x="329.23" y="234" width="3" height="5.2" rx="1.5" fill="#1F5C99"/>
<rect x="359.17" y="234.3" width="3" height="4.5" rx="1.5" fill="#1F5C99"/>
<rect x="389.1" y="234.4" width="3" height="3.9" rx="1.5" fill="#1F5C99"/>
<rect x="419.03" y="234.4" width="3" height="4.6" rx="1.5" fill="#1F5C99"/>
<rect x="448.97" y="234.4" width="3" height="3.2" rx="1.5" fill="#1F5C99"/>
<rect x="478.9" y="234.8" width="3" height="2.1" rx="1.5" fill="#1F5C99"/>
<circle cx="468.9" cy="387.4" r="1.4" fill="#1F5C99" stroke="none" stroke-width="0.5"/>
<rect x="467.6" y="392.9" width="2.6" height="2.6" fill="#F24848" stroke="none" stroke-width="0.8"/>
<text transform="translate(474.1 389.31) scale(0.1)" font-size="53" text-anchor="start" fill="#222" stroke="#222" stroke-width="1">R2Y</text>
<text transform="translate(474.1 396.11) scale(0.1)" font-size="53" text-anchor="start" fill="#222" stroke="#222" stroke-width="1">Q2Y</text>
<text transform="translate(509.1 239.45)" font-size="16.5" text-anchor="start" fill="#000" font-weight="bold">F</text>
<g shape-rendering="crispEdges">
<rect x="548.6" y="229.6" width="5.84" height="6.62" fill="#FFCCCC" stroke="none" stroke-width="0.8"/>
<rect x="554.39" y="229.6" width="5.84" height="6.62" fill="#FFBFBF" stroke="none" stroke-width="0.8"/>
<rect x="560.18" y="229.6" width="5.84" height="6.62" fill="#FF8C8C" stroke="none" stroke-width="0.8"/>
<rect x="565.97" y="229.6" width="5.84" height="6.62" fill="#FFB2B2" stroke="none" stroke-width="0.8"/>
<rect x="571.76" y="229.6" width="5.84" height="6.62" fill="#FFCCCC" stroke="none" stroke-width="0.8"/>
<rect x="577.54" y="229.6" width="5.84" height="6.62" fill="#FFA6A6" stroke="none" stroke-width="0.8"/>
<rect x="583.33" y="229.6" width="5.84" height="6.62" fill="#D9D9FF" stroke="none" stroke-width="0.8"/>
<rect x="589.12" y="229.6" width="5.84" height="6.62" fill="#8C8CFF" stroke="none" stroke-width="0.8"/>
<rect x="594.91" y="229.6" width="5.84" height="6.62" fill="#8C8CFF" stroke="none" stroke-width="0.8"/>
<rect x="600.7" y="229.6" width="5.84" height="6.62" fill="#3333FF" stroke="none" stroke-width="0.8"/>
<rect x="606.49" y="229.6" width="5.84" height="6.62" fill="#9999FF" stroke="none" stroke-width="0.8"/>
<rect x="612.28" y="229.6" width="5.84" height="6.62" fill="#B2B2FF" stroke="none" stroke-width="0.8"/>
<rect x="618.07" y="229.6" width="5.84" height="6.62" fill="#FFFFFF" stroke="none" stroke-width="0.8"/>
<rect x="623.86" y="229.6" width="5.84" height="6.62" fill="#E6E6FF" stroke="none" stroke-width="0.8"/>
<rect x="629.64" y="229.6" width="5.84" height="6.62" fill="#FFD9D9" stroke="none" stroke-width="0.8"/>
<rect x="635.43" y="229.6" width="5.84" height="6.62" fill="#FF8080" stroke="none" stroke-width="0.8"/>
<rect x="641.22" y="229.6" width="5.84" height="6.62" fill="#FFA6A6" stroke="none" stroke-width="0.8"/>
<rect x="647.01" y="229.6" width="5.84" height="6.62" fill="#FFB2B2" stroke="none" stroke-width="0.8"/>
<rect x="548.6" y="236.17" width="5.84" height="6.62" fill="#FFD9D9" stroke="none" stroke-width="0.8"/>
<rect x="554.39" y="236.17" width="5.84" height="6.62" fill="#FFBFBF" stroke="none" stroke-width="0.8"/>
<rect x="560.18" y="236.17" width="5.84" height="6.62" fill="#FF9999" stroke="none" stroke-width="0.8"/>
<rect x="565.97" y="236.17" width="5.84" height="6.62" fill="#FFFFFF" stroke="none" stroke-width="0.8"/>
<rect x="571.76" y="236.17" width="5.84" height="6.62" fill="#FFF2F2" stroke="none" stroke-width="0.8"/>
<rect x="577.54" y="236.17" width="5.84" height="6.62" fill="#FFBFBF" stroke="none" stroke-width="0.8"/>
<rect x="583.33" y="236.17" width="5.84" height="6.62" fill="#E6E6FF" stroke="none" stroke-width="0.8"/>
<rect x="589.12" y="236.17" width="5.84" height="6.62" fill="#B2B2FF" stroke="none" stroke-width="0.8"/>
<rect x="594.91" y="236.17" width="5.84" height="6.62" fill="#8080FF" stroke="none" stroke-width="0.8"/>
<rect x="600.7" y="236.17" width="5.84" height="6.62" fill="#8C8CFF" stroke="none" stroke-width="0.8"/>
<rect x="606.49" y="236.17" width="5.84" height="6.62" fill="#8C8CFF" stroke="none" stroke-width="0.8"/>
<rect x="612.28" y="236.17" width="5.84" height="6.62" fill="#9999FF" stroke="none" stroke-width="0.8"/>
<rect x="618.07" y="236.17" width="5.84" height="6.62" fill="#E6E6FF" stroke="none" stroke-width="0.8"/>
<rect x="623.86" y="236.17" width="5.84" height="6.62" fill="#CCCCFF" stroke="none" stroke-width="0.8"/>
<rect x="629.64" y="236.17" width="5.84" height="6.62" fill="#FFBFBF" stroke="none" stroke-width="0.8"/>
<rect x="635.43" y="236.17" width="5.84" height="6.62" fill="#FF6666" stroke="none" stroke-width="0.8"/>
<rect x="641.22" y="236.17" width="5.84" height="6.62" fill="#FF7373" stroke="none" stroke-width="0.8"/>
<rect x="647.01" y="236.17" width="5.84" height="6.62" fill="#FFB2B2" stroke="none" stroke-width="0.8"/>
<rect x="548.6" y="242.75" width="5.84" height="6.62" fill="#FFF2F2" stroke="none" stroke-width="0.8"/>
<rect x="554.39" y="242.75" width="5.84" height="6.62" fill="#FFF2F2" stroke="none" stroke-width="0.8"/>
<rect x="560.18" y="242.75" width="5.84" height="6.62" fill="#FFB2B2" stroke="none" stroke-width="0.8"/>
<rect x="565.97" y="242.75" width="5.84" height="6.62" fill="#FFA6A6" stroke="none" stroke-width="0.8"/>
<rect x="571.76" y="242.75" width="5.84" height="6.62" fill="#FFB2B2" stroke="none" stroke-width="0.8"/>
<rect x="577.54" y="242.75" width="5.84" height="6.62" fill="#FFB2B2" stroke="none" stroke-width="0.8"/>
<rect x="583.33" y="242.75" width="5.84" height="6.62" fill="#D9D9FF" stroke="none" stroke-width="0.8"/>
<rect x="589.12" y="242.75" width="5.84" height="6.62" fill="#9999FF" stroke="none" stroke-width="0.8"/>
<rect x="594.91" y="242.75" width="5.84" height="6.62" fill="#BFBFFF" stroke="none" stroke-width="0.8"/>
<rect x="600.7" y="242.75" width="5.84" height="6.62" fill="#5959FF" stroke="none" stroke-width="0.8"/>
<rect x="606.49" y="242.75" width="5.84" height="6.62" fill="#8C8CFF" stroke="none" stroke-width="0.8"/>
<rect x="612.28" y="242.75" width="5.84" height="6.62" fill="#8080FF" stroke="none" stroke-width="0.8"/>
<rect x="618.07" y="242.75" width="5.84" height="6.62" fill="#BFBFFF" stroke="none" stroke-width="0.8"/>
<rect x="623.86" y="242.75" width="5.84" height="6.62" fill="#F2F2FF" stroke="none" stroke-width="0.8"/>
<rect x="629.64" y="242.75" width="5.84" height="6.62" fill="#FFB2B2" stroke="none" stroke-width="0.8"/>
<rect x="635.43" y="242.75" width="5.84" height="6.62" fill="#FF9999" stroke="none" stroke-width="0.8"/>
<rect x="641.22" y="242.75" width="5.84" height="6.62" fill="#FFCCCC" stroke="none" stroke-width="0.8"/>
<rect x="647.01" y="242.75" width="5.84" height="6.62" fill="#FFB2B2" stroke="none" stroke-width="0.8"/>
<rect x="548.6" y="249.32" width="5.84" height="6.62" fill="#FFF2F2" stroke="none" stroke-width="0.8"/>
<rect x="554.39" y="249.32" width="5.84" height="6.62" fill="#FFF2F2" stroke="none" stroke-width="0.8"/>
<rect x="560.18" y="249.32" width="5.84" height="6.62" fill="#FFBFBF" stroke="none" stroke-width="0.8"/>
<rect x="565.97" y="249.32" width="5.84" height="6.62" fill="#FFB2B2" stroke="none" stroke-width="0.8"/>
<rect x="571.76" y="249.32" width="5.84" height="6.62" fill="#FFBFBF" stroke="none" stroke-width="0.8"/>
<rect x="577.54" y="249.32" width="5.84" height="6.62" fill="#FFBFBF" stroke="none" stroke-width="0.8"/>
<rect x="583.33" y="249.32" width="5.84" height="6.62" fill="#CCCCFF" stroke="none" stroke-width="0.8"/>
<rect x="589.12" y="249.32" width="5.84" height="6.62" fill="#9999FF" stroke="none" stroke-width="0.8"/>
<rect x="594.91" y="249.32" width="5.84" height="6.62" fill="#BFBFFF" stroke="none" stroke-width="0.8"/>
<rect x="600.7" y="249.32" width="5.84" height="6.62" fill="#4040FF" stroke="none" stroke-width="0.8"/>
<rect x="606.49" y="249.32" width="5.84" height="6.62" fill="#8C8CFF" stroke="none" stroke-width="0.8"/>
<rect x="612.28" y="249.32" width="5.84" height="6.62" fill="#8080FF" stroke="none" stroke-width="0.8"/>
<rect x="618.07" y="249.32" width="5.84" height="6.62" fill="#BFBFFF" stroke="none" stroke-width="0.8"/>
<rect x="623.86" y="249.32" width="5.84" height="6.62" fill="#E6E6FF" stroke="none" stroke-width="0.8"/>
<rect x="629.64" y="249.32" width="5.84" height="6.62" fill="#FFB2B2" stroke="none" stroke-width="0.8"/>
<rect x="635.43" y="249.32" width="5.84" height="6.62" fill="#FF9999" stroke="none" stroke-width="0.8"/>
<rect x="641.22" y="249.32" width="5.84" height="6.62" fill="#FFB2B2" stroke="none" stroke-width="0.8"/>
<rect x="647.01" y="249.32" width="5.84" height="6.62" fill="#FFB2B2" stroke="none" stroke-width="0.8"/>
<rect x="548.6" y="255.89" width="5.84" height="6.62" fill="#FF8080" stroke="none" stroke-width="0.8"/>
<rect x="554.39" y="255.89" width="5.84" height="6.62" fill="#FFB2B2" stroke="none" stroke-width="0.8"/>
<rect x="560.18" y="255.89" width="5.84" height="6.62" fill="#FFE6E6" stroke="none" stroke-width="0.8"/>
<rect x="565.97" y="255.89" width="5.84" height="6.62" fill="#FF9999" stroke="none" stroke-width="0.8"/>
<rect x="571.76" y="255.89" width="5.84" height="6.62" fill="#FFE6E6" stroke="none" stroke-width="0.8"/>
<rect x="577.54" y="255.89" width="5.84" height="6.62" fill="#FFBFBF" stroke="none" stroke-width="0.8"/>
<rect x="583.33" y="255.89" width="5.84" height="6.62" fill="#FFFFFF" stroke="none" stroke-width="0.8"/>
<rect x="589.12" y="255.89" width="5.84" height="6.62" fill="#BFBFFF" stroke="none" stroke-width="0.8"/>
<rect x="594.91" y="255.89" width="5.84" height="6.62" fill="#6666FF" stroke="none" stroke-width="0.8"/>
<rect x="600.7" y="255.89" width="5.84" height="6.62" fill="#9999FF" stroke="none" stroke-width="0.8"/>
<rect x="606.49" y="255.89" width="5.84" height="6.62" fill="#6666FF" stroke="none" stroke-width="0.8"/>
<rect x="612.28" y="255.89" width="5.84" height="6.62" fill="#8C8CFF" stroke="none" stroke-width="0.8"/>
<rect x="618.07" y="255.89" width="5.84" height="6.62" fill="#D9D9FF" stroke="none" stroke-width="0.8"/>
<rect x="623.86" y="255.89" width="5.84" height="6.62" fill="#F2F2FF" stroke="none" stroke-width="0.8"/>
<rect x="629.64" y="255.89" width="5.84" height="6.62" fill="#E6E6FF" stroke="none" stroke-width="0.8"/>
<rect x="635.43" y="255.89" width="5.84" height="6.62" fill="#FFCCCC" stroke="none" stroke-width="0.8"/>
<rect x="641.22" y="255.89" width="5.84" height="6.62" fill="#FFB2B2" stroke="none" stroke-width="0.8"/>
<rect x="647.01" y="255.89" width="5.84" height="6.62" fill="#FFBFBF" stroke="none" stroke-width="0.8"/>
<rect x="548.6" y="262.47" width="5.84" height="6.62" fill="#FFCCCC" stroke="none" stroke-width="0.8"/>
<rect x="554.39" y="262.47" width="5.84" height="6.62" fill="#FF9999" stroke="none" stroke-width="0.8"/>
<rect x="560.18" y="262.47" width="5.84" height="6.62" fill="#FF8C8C" stroke="none" stroke-width="0.8"/>
<rect x="565.97" y="262.47" width="5.84" height="6.62" fill="#FFD9D9" stroke="none" stroke-width="0.8"/>
<rect x="571.76" y="262.47" width="5.84" height="6.62" fill="#FFE6E6" stroke="none" stroke-width="0.8"/>
<rect x="577.54" y="262.47" width="5.84" height="6.62" fill="#FFD9D9" stroke="none" stroke-width="0.8"/>
<rect x="583.33" y="262.47" width="5.84" height="6.62" fill="#B2B2FF" stroke="none" stroke-width="0.8"/>
<rect x="589.12" y="262.47" width="5.84" height="6.62" fill="#8C8CFF" stroke="none" stroke-width="0.8"/>
<rect x="594.91" y="262.47" width="5.84" height="6.62" fill="#6666FF" stroke="none" stroke-width="0.8"/>
<rect x="600.7" y="262.47" width="5.84" height="6.62" fill="#CCCCFF" stroke="none" stroke-width="0.8"/>
<rect x="606.49" y="262.47" width="5.84" height="6.62" fill="#8C8CFF" stroke="none" stroke-width="0.8"/>
<rect x="612.28" y="262.47" width="5.84" height="6.62" fill="#7373FF" stroke="none" stroke-width="0.8"/>
<rect x="618.07" y="262.47" width="5.84" height="6.62" fill="#CCCCFF" stroke="none" stroke-width="0.8"/>
<rect x="623.86" y="262.47" width="5.84" height="6.62" fill="#E6E6FF" stroke="none" stroke-width="0.8"/>
<rect x="629.64" y="262.47" width="5.84" height="6.62" fill="#FFB2B2" stroke="none" stroke-width="0.8"/>
<rect x="635.43" y="262.47" width="5.84" height="6.62" fill="#FFB2B2" stroke="none" stroke-width="0.8"/>
<rect x="641.22" y="262.47" width="5.84" height="6.62" fill="#FFB2B2" stroke="none" stroke-width="0.8"/>
<rect x="647.01" y="262.47" width="5.84" height="6.62" fill="#FFB2B2" stroke="none" stroke-width="0.8"/>
<rect x="548.6" y="269.04" width="5.84" height="6.62" fill="#FFD9D9" stroke="none" stroke-width="0.8"/>
<rect x="554.39" y="269.04" width="5.84" height="6.62" fill="#FF9999" stroke="none" stroke-width="0.8"/>
<rect x="560.18" y="269.04" width="5.84" height="6.62" fill="#FFBFBF" stroke="none" stroke-width="0.8"/>
<rect x="565.97" y="269.04" width="5.84" height="6.62" fill="#FFDFDF" stroke="none" stroke-width="0.8"/>
<rect x="571.76" y="269.04" width="5.84" height="6.62" fill="#FFE6E6" stroke="none" stroke-width="0.8"/>
<rect x="577.54" y="269.04" width="5.84" height="6.62" fill="#FFCCCC" stroke="none" stroke-width="0.8"/>
<rect x="583.33" y="269.04" width="5.84" height="6.62" fill="#CCCCFF" stroke="none" stroke-width="0.8"/>
<rect x="589.12" y="269.04" width="5.84" height="6.62" fill="#9999FF" stroke="none" stroke-width="0.8"/>
<rect x="594.91" y="269.04" width="5.84" height="6.62" fill="#5959FF" stroke="none" stroke-width="0.8"/>
<rect x="600.7" y="269.04" width="5.84" height="6.62" fill="#CCCCFF" stroke="none" stroke-width="0.8"/>
<rect x="606.49" y="269.04" width="5.84" height="6.62" fill="#8080FF" stroke="none" stroke-width="0.8"/>
<rect x="612.28" y="269.04" width="5.84" height="6.62" fill="#8080FF" stroke="none" stroke-width="0.8"/>
<rect x="618.07" y="269.04" width="5.84" height="6.62" fill="#CCCCFF" stroke="none" stroke-width="0.8"/>
<rect x="623.86" y="269.04" width="5.84" height="6.62" fill="#D9D9FF" stroke="none" stroke-width="0.8"/>
<rect x="629.64" y="269.04" width="5.84" height="6.62" fill="#FFB2B2" stroke="none" stroke-width="0.8"/>
<rect x="635.43" y="269.04" width="5.84" height="6.62" fill="#FFB2B2" stroke="none" stroke-width="0.8"/>
<rect x="641.22" y="269.04" width="5.84" height="6.62" fill="#FFB2B2" stroke="none" stroke-width="0.8"/>
<rect x="647.01" y="269.04" width="5.84" height="6.62" fill="#FFE6E6" stroke="none" stroke-width="0.8"/>
<rect x="548.6" y="275.61" width="5.84" height="6.62" fill="#FFCCCC" stroke="none" stroke-width="0.8"/>
<rect x="554.39" y="275.61" width="5.84" height="6.62" fill="#FFBFBF" stroke="none" stroke-width="0.8"/>
<rect x="560.18" y="275.61" width="5.84" height="6.62" fill="#FFBFBF" stroke="none" stroke-width="0.8"/>
<rect x="565.97" y="275.61" width="5.84" height="6.62" fill="#FFA6A6" stroke="none" stroke-width="0.8"/>
<rect x="571.76" y="275.61" width="5.84" height="6.62" fill="#FFE6E6" stroke="none" stroke-width="0.8"/>
<rect x="577.54" y="275.61" width="5.84" height="6.62" fill="#FFFFFF" stroke="none" stroke-width="0.8"/>
<rect x="583.33" y="275.61" width="5.84" height="6.62" fill="#BFBFFF" stroke="none" stroke-width="0.8"/>
<rect x="589.12" y="275.61" width="5.84" height="6.62" fill="#9999FF" stroke="none" stroke-width="0.8"/>
<rect x="594.91" y="275.61" width="5.84" height="6.62" fill="#8080FF" stroke="none" stroke-width="0.8"/>
<rect x="600.7" y="275.61" width="5.84" height="6.62" fill="#FFFFFF" stroke="none" stroke-width="0.8"/>
<rect x="606.49" y="275.61" width="5.84" height="6.62" fill="#8080FF" stroke="none" stroke-width="0.8"/>
<rect x="612.28" y="275.61" width="5.84" height="6.62" fill="#7373FF" stroke="none" stroke-width="0.8"/>
<rect x="618.07" y="275.61" width="5.84" height="6.62" fill="#A6A6FF" stroke="none" stroke-width="0.8"/>
<rect x="623.86" y="275.61" width="5.84" height="6.62" fill="#F2F2FF" stroke="none" stroke-width="0.8"/>
<rect x="629.64" y="275.61" width="5.84" height="6.62" fill="#FFB2B2" stroke="none" stroke-width="0.8"/>
<rect x="635.43" y="275.61" width="5.84" height="6.62" fill="#FFB2B2" stroke="none" stroke-width="0.8"/>
<rect x="641.22" y="275.61" width="5.84" height="6.62" fill="#FFB2B2" stroke="none" stroke-width="0.8"/>
<rect x="647.01" y="275.61" width="5.84" height="6.62" fill="#FFD9D9" stroke="none" stroke-width="0.8"/>
<rect x="548.6" y="282.19" width="5.84" height="6.62" fill="#F2F2FF" stroke="none" stroke-width="0.8"/>
<rect x="554.39" y="282.19" width="5.84" height="6.62" fill="#FFCCCC" stroke="none" stroke-width="0.8"/>
<rect x="560.18" y="282.19" width="5.84" height="6.62" fill="#FFE6E6" stroke="none" stroke-width="0.8"/>
<rect x="565.97" y="282.19" width="5.84" height="6.62" fill="#FFD9D9" stroke="none" stroke-width="0.8"/>
<rect x="571.76" y="282.19" width="5.84" height="6.62" fill="#FFD9D9" stroke="none" stroke-width="0.8"/>
<rect x="577.54" y="282.19" width="5.84" height="6.62" fill="#FFFFFF" stroke="none" stroke-width="0.8"/>
<rect x="583.33" y="282.19" width="5.84" height="6.62" fill="#8C8CFF" stroke="none" stroke-width="0.8"/>
<rect x="589.12" y="282.19" width="5.84" height="6.62" fill="#8C8CFF" stroke="none" stroke-width="0.8"/>
<rect x="594.91" y="282.19" width="5.84" height="6.62" fill="#8C8CFF" stroke="none" stroke-width="0.8"/>
<rect x="600.7" y="282.19" width="5.84" height="6.62" fill="#8C8CFF" stroke="none" stroke-width="0.8"/>
<rect x="606.49" y="282.19" width="5.84" height="6.62" fill="#8C8CFF" stroke="none" stroke-width="0.8"/>
<rect x="612.28" y="282.19" width="5.84" height="6.62" fill="#8C8CFF" stroke="none" stroke-width="0.8"/>
<rect x="618.07" y="282.19" width="5.84" height="6.62" fill="#FFE6E6" stroke="none" stroke-width="0.8"/>
<rect x="623.86" y="282.19" width="5.84" height="6.62" fill="#FFFFFF" stroke="none" stroke-width="0.8"/>
<rect x="629.64" y="282.19" width="5.84" height="6.62" fill="#FF5959" stroke="none" stroke-width="0.8"/>
<rect x="635.43" y="282.19" width="5.84" height="6.62" fill="#FFA6A6" stroke="none" stroke-width="0.8"/>
<rect x="641.22" y="282.19" width="5.84" height="6.62" fill="#FFA6A6" stroke="none" stroke-width="0.8"/>
<rect x="647.01" y="282.19" width="5.84" height="6.62" fill="#FFA6A6" stroke="none" stroke-width="0.8"/>
<rect x="548.6" y="288.76" width="5.84" height="6.62" fill="#FFB2B2" stroke="none" stroke-width="0.8"/>
<rect x="554.39" y="288.76" width="5.84" height="6.62" fill="#FFCCCC" stroke="none" stroke-width="0.8"/>
<rect x="560.18" y="288.76" width="5.84" height="6.62" fill="#FFBFBF" stroke="none" stroke-width="0.8"/>
<rect x="565.97" y="288.76" width="5.84" height="6.62" fill="#FFE6E6" stroke="none" stroke-width="0.8"/>
<rect x="571.76" y="288.76" width="5.84" height="6.62" fill="#FFD9D9" stroke="none" stroke-width="0.8"/>
<rect x="577.54" y="288.76" width="5.84" height="6.62" fill="#FFFFFF" stroke="none" stroke-width="0.8"/>
<rect x="583.33" y="288.76" width="5.84" height="6.62" fill="#8C8CFF" stroke="none" stroke-width="0.8"/>
<rect x="589.12" y="288.76" width="5.84" height="6.62" fill="#FFE6E6" stroke="none" stroke-width="0.8"/>
<rect x="594.91" y="288.76" width="5.84" height="6.62" fill="#6666FF" stroke="none" stroke-width="0.8"/>
<rect x="600.7" y="288.76" width="5.84" height="6.62" fill="#9999FF" stroke="none" stroke-width="0.8"/>
<rect x="606.49" y="288.76" width="5.84" height="6.62" fill="#CCCCFF" stroke="none" stroke-width="0.8"/>
<rect x="612.28" y="288.76" width="5.84" height="6.62" fill="#BFBFFF" stroke="none" stroke-width="0.8"/>
<rect x="618.07" y="288.76" width="5.84" height="6.62" fill="#B2B2FF" stroke="none" stroke-width="0.8"/>
<rect x="623.86" y="288.76" width="5.84" height="6.62" fill="#D9D9FF" stroke="none" stroke-width="0.8"/>
<rect x="629.64" y="288.76" width="5.84" height="6.62" fill="#FF4D4D" stroke="none" stroke-width="0.8"/>
<rect x="635.43" y="288.76" width="5.84" height="6.62" fill="#FFD9D9" stroke="none" stroke-width="0.8"/>
<rect x="641.22" y="288.76" width="5.84" height="6.62" fill="#FFD9D9" stroke="none" stroke-width="0.8"/>
<rect x="647.01" y="288.76" width="5.84" height="6.62" fill="#FFCCCC" stroke="none" stroke-width="0.8"/>
<rect x="548.6" y="295.33" width="5.84" height="6.62" fill="#FF2626" stroke="none" stroke-width="0.8"/>
<rect x="554.39" y="295.33" width="5.84" height="6.62" fill="#FFCCCC" stroke="none" stroke-width="0.8"/>
<rect x="560.18" y="295.33" width="5.84" height="6.62" fill="#FFCCCC" stroke="none" stroke-width="0.8"/>
<rect x="565.97" y="295.33" width="5.84" height="6.62" fill="#FFECEC" stroke="none" stroke-width="0.8"/>
<rect x="571.76" y="295.33" width="5.84" height="6.62" fill="#FFCCCC" stroke="none" stroke-width="0.8"/>
<rect x="577.54" y="295.33" width="5.84" height="6.62" fill="#BFBFFF" stroke="none" stroke-width="0.8"/>
<rect x="583.33" y="295.33" width="5.84" height="6.62" fill="#A6A6FF" stroke="none" stroke-width="0.8"/>
<rect x="589.12" y="295.33" width="5.84" height="6.62" fill="#FFE6E6" stroke="none" stroke-width="0.8"/>
<rect x="594.91" y="295.33" width="5.84" height="6.62" fill="#9999FF" stroke="none" stroke-width="0.8"/>
<rect x="600.7" y="295.33" width="5.84" height="6.62" fill="#B2B2FF" stroke="none" stroke-width="0.8"/>
<rect x="606.49" y="295.33" width="5.84" height="6.62" fill="#B2B2FF" stroke="none" stroke-width="0.8"/>
<rect x="612.28" y="295.33" width="5.84" height="6.62" fill="#BFBFFF" stroke="none" stroke-width="0.8"/>
<rect x="618.07" y="295.33" width="5.84" height="6.62" fill="#BFBFFF" stroke="none" stroke-width="0.8"/>
<rect x="623.86" y="295.33" width="5.84" height="6.62" fill="#D9D9FF" stroke="none" stroke-width="0.8"/>
<rect x="629.64" y="295.33" width="5.84" height="6.62" fill="#FFBFBF" stroke="none" stroke-width="0.8"/>
<rect x="635.43" y="295.33" width="5.84" height="6.62" fill="#FFFFFF" stroke="none" stroke-width="0.8"/>
<rect x="641.22" y="295.33" width="5.84" height="6.62" fill="#FFCCCC" stroke="none" stroke-width="0.8"/>
<rect x="647.01" y="295.33" width="5.84" height="6.62" fill="#FFD9D9" stroke="none" stroke-width="0.8"/>
<rect x="548.6" y="301.91" width="5.84" height="6.62" fill="#FFBFBF" stroke="none" stroke-width="0.8"/>
<rect x="554.39" y="301.91" width="5.84" height="6.62" fill="#FF9999" stroke="none" stroke-width="0.8"/>
<rect x="560.18" y="301.91" width="5.84" height="6.62" fill="#FF6666" stroke="none" stroke-width="0.8"/>
<rect x="565.97" y="301.91" width="5.84" height="6.62" fill="#FFB2B2" stroke="none" stroke-width="0.8"/>
<rect x="571.76" y="301.91" width="5.84" height="6.62" fill="#FFBFBF" stroke="none" stroke-width="0.8"/>
<rect x="577.54" y="301.91" width="5.84" height="6.62" fill="#FFB2B2" stroke="none" stroke-width="0.8"/>
<rect x="583.33" y="301.91" width="5.84" height="6.62" fill="#CCCCFF" stroke="none" stroke-width="0.8"/>
<rect x="589.12" y="301.91" width="5.84" height="6.62" fill="#D9D9FF" stroke="none" stroke-width="0.8"/>
<rect x="594.91" y="301.91" width="5.84" height="6.62" fill="#9999FF" stroke="none" stroke-width="0.8"/>
<rect x="600.7" y="301.91" width="5.84" height="6.62" fill="#BFBFFF" stroke="none" stroke-width="0.8"/>
<rect x="606.49" y="301.91" width="5.84" height="6.62" fill="#BFBFFF" stroke="none" stroke-width="0.8"/>
<rect x="612.28" y="301.91" width="5.84" height="6.62" fill="#A6A6FF" stroke="none" stroke-width="0.8"/>
<rect x="618.07" y="301.91" width="5.84" height="6.62" fill="#CCCCFF" stroke="none" stroke-width="0.8"/>
<rect x="623.86" y="301.91" width="5.84" height="6.62" fill="#FFFFFF" stroke="none" stroke-width="0.8"/>
<rect x="629.64" y="301.91" width="5.84" height="6.62" fill="#FFE6E6" stroke="none" stroke-width="0.8"/>
<rect x="635.43" y="301.91" width="5.84" height="6.62" fill="#F2F2FF" stroke="none" stroke-width="0.8"/>
<rect x="641.22" y="301.91" width="5.84" height="6.62" fill="#FFFFFF" stroke="none" stroke-width="0.8"/>
<rect x="647.01" y="301.91" width="5.84" height="6.62" fill="#CCCCFF" stroke="none" stroke-width="0.8"/>
<rect x="548.6" y="308.48" width="5.84" height="6.62" fill="#FFB2B2" stroke="none" stroke-width="0.8"/>
<rect x="554.39" y="308.48" width="5.84" height="6.62" fill="#FF8080" stroke="none" stroke-width="0.8"/>
<rect x="560.18" y="308.48" width="5.84" height="6.62" fill="#FF7373" stroke="none" stroke-width="0.8"/>
<rect x="565.97" y="308.48" width="5.84" height="6.62" fill="#FFA6A6" stroke="none" stroke-width="0.8"/>
<rect x="571.76" y="308.48" width="5.84" height="6.62" fill="#FFBFBF" stroke="none" stroke-width="0.8"/>
<rect x="577.54" y="308.48" width="5.84" height="6.62" fill="#FFB2B2" stroke="none" stroke-width="0.8"/>
<rect x="583.33" y="308.48" width="5.84" height="6.62" fill="#D9D9FF" stroke="none" stroke-width="0.8"/>
<rect x="589.12" y="308.48" width="5.84" height="6.62" fill="#BFBFFF" stroke="none" stroke-width="0.8"/>
<rect x="594.91" y="308.48" width="5.84" height="6.62" fill="#9999FF" stroke="none" stroke-width="0.8"/>
<rect x="600.7" y="308.48" width="5.84" height="6.62" fill="#BFBFFF" stroke="none" stroke-width="0.8"/>
<rect x="606.49" y="308.48" width="5.84" height="6.62" fill="#BFBFFF" stroke="none" stroke-width="0.8"/>
<rect x="612.28" y="308.48" width="5.84" height="6.62" fill="#B2B2FF" stroke="none" stroke-width="0.8"/>
<rect x="618.07" y="308.48" width="5.84" height="6.62" fill="#D9D9FF" stroke="none" stroke-width="0.8"/>
<rect x="623.86" y="308.48" width="5.84" height="6.62" fill="#FFFFFF" stroke="none" stroke-width="0.8"/>
<rect x="629.64" y="308.48" width="5.84" height="6.62" fill="#FFFFFF" stroke="none" stroke-width="0.8"/>
<rect x="635.43" y="308.48" width="5.84" height="6.62" fill="#E6E6FF" stroke="none" stroke-width="0.8"/>
<rect x="641.22" y="308.48" width="5.84" height="6.62" fill="#F2F2FF" stroke="none" stroke-width="0.8"/>
<rect x="647.01" y="308.48" width="5.84" height="6.62" fill="#CCCCFF" stroke="none" stroke-width="0.8"/>
<rect x="548.6" y="315.05" width="5.84" height="6.62" fill="#FFB2B2" stroke="none" stroke-width="0.8"/>
<rect x="554.39" y="315.05" width="5.84" height="6.62" fill="#FF8C8C" stroke="none" stroke-width="0.8"/>
<rect x="560.18" y="315.05" width="5.84" height="6.62" fill="#FF8C8C" stroke="none" stroke-width="0.8"/>
<rect x="565.97" y="315.05" width="5.84" height="6.62" fill="#FF8C8C" stroke="none" stroke-width="0.8"/>
<rect x="571.76" y="315.05" width="5.84" height="6.62" fill="#FF9999" stroke="none" stroke-width="0.8"/>
<rect x="577.54" y="315.05" width="5.84" height="6.62" fill="#FFD9D9" stroke="none" stroke-width="0.8"/>
<rect x="583.33" y="315.05" width="5.84" height="6.62" fill="#D9D9FF" stroke="none" stroke-width="0.8"/>
<rect x="589.12" y="315.05" width="5.84" height="6.62" fill="#BFBFFF" stroke="none" stroke-width="0.8"/>
<rect x="594.91" y="315.05" width="5.84" height="6.62" fill="#B2B2FF" stroke="none" stroke-width="0.8"/>
<rect x="600.7" y="315.05" width="5.84" height="6.62" fill="#5959FF" stroke="none" stroke-width="0.8"/>
<rect x="606.49" y="315.05" width="5.84" height="6.62" fill="#B2B2FF" stroke="none" stroke-width="0.8"/>
<rect x="612.28" y="315.05" width="5.84" height="6.62" fill="#BFBFFF" stroke="none" stroke-width="0.8"/>
<rect x="618.07" y="315.05" width="5.84" height="6.62" fill="#BFBFFF" stroke="none" stroke-width="0.8"/>
<rect x="623.86" y="315.05" width="5.84" height="6.62" fill="#FFE6E6" stroke="none" stroke-width="0.8"/>
<rect x="629.64" y="315.05" width="5.84" height="6.62" fill="#F2F2FF" stroke="none" stroke-width="0.8"/>
<rect x="635.43" y="315.05" width="5.84" height="6.62" fill="#E6E6FF" stroke="none" stroke-width="0.8"/>
<rect x="641.22" y="315.05" width="5.84" height="6.62" fill="#F2F2FF" stroke="none" stroke-width="0.8"/>
<rect x="647.01" y="315.05" width="5.84" height="6.62" fill="#F2F2FF" stroke="none" stroke-width="0.8"/>
<rect x="548.6" y="321.63" width="5.84" height="6.62" fill="#FFA6A6" stroke="none" stroke-width="0.8"/>
<rect x="554.39" y="321.63" width="5.84" height="6.62" fill="#FF8C8C" stroke="none" stroke-width="0.8"/>
<rect x="560.18" y="321.63" width="5.84" height="6.62" fill="#FF8C8C" stroke="none" stroke-width="0.8"/>
<rect x="565.97" y="321.63" width="5.84" height="6.62" fill="#FF9999" stroke="none" stroke-width="0.8"/>
<rect x="571.76" y="321.63" width="5.84" height="6.62" fill="#FFB2B2" stroke="none" stroke-width="0.8"/>
<rect x="577.54" y="321.63" width="5.84" height="6.62" fill="#E6E6FF" stroke="none" stroke-width="0.8"/>
<rect x="583.33" y="321.63" width="5.84" height="6.62" fill="#BFBFFF" stroke="none" stroke-width="0.8"/>
<rect x="589.12" y="321.63" width="5.84" height="6.62" fill="#B2B2FF" stroke="none" stroke-width="0.8"/>
<rect x="594.91" y="321.63" width="5.84" height="6.62" fill="#B2B2FF" stroke="none" stroke-width="0.8"/>
<rect x="600.7" y="321.63" width="5.84" height="6.62" fill="#9999FF" stroke="none" stroke-width="0.8"/>
<rect x="606.49" y="321.63" width="5.84" height="6.62" fill="#B2B2FF" stroke="none" stroke-width="0.8"/>
<rect x="612.28" y="321.63" width="5.84" height="6.62" fill="#BFBFFF" stroke="none" stroke-width="0.8"/>
<rect x="618.07" y="321.63" width="5.84" height="6.62" fill="#BFBFFF" stroke="none" stroke-width="0.8"/>
<rect x="623.86" y="321.63" width="5.84" height="6.62" fill="#E6E6FF" stroke="none" stroke-width="0.8"/>
<rect x="629.64" y="321.63" width="5.84" height="6.62" fill="#FFD9D9" stroke="none" stroke-width="0.8"/>
<rect x="635.43" y="321.63" width="5.84" height="6.62" fill="#FFE6E6" stroke="none" stroke-width="0.8"/>
<rect x="641.22" y="321.63" width="5.84" height="6.62" fill="#FFBFBF" stroke="none" stroke-width="0.8"/>
<rect x="647.01" y="321.63" width="5.84" height="6.62" fill="#FFF2F2" stroke="none" stroke-width="0.8"/>
<rect x="548.6" y="328.2" width="5.84" height="6.62" fill="#FF8C8C" stroke="none" stroke-width="0.8"/>
<rect x="554.39" y="328.2" width="5.84" height="6.62" fill="#FF8080" stroke="none" stroke-width="0.8"/>
<rect x="560.18" y="328.2" width="5.84" height="6.62" fill="#FF8080" stroke="none" stroke-width="0.8"/>
<rect x="565.97" y="328.2" width="5.84" height="6.62" fill="#FF8C8C" stroke="none" stroke-width="0.8"/>
<rect x="571.76" y="328.2" width="5.84" height="6.62" fill="#FFB2B2" stroke="none" stroke-width="0.8"/>
<rect x="577.54" y="328.2" width="5.84" height="6.62" fill="#FFD9D9" stroke="none" stroke-width="0.8"/>
<rect x="583.33" y="328.2" width="5.84" height="6.62" fill="#B2B2FF" stroke="none" stroke-width="0.8"/>
<rect x="589.12" y="328.2" width="5.84" height="6.62" fill="#A6A6FF" stroke="none" stroke-width="0.8"/>
<rect x="594.91" y="328.2" width="5.84" height="6.62" fill="#CCCCFF" stroke="none" stroke-width="0.8"/>
<rect x="600.7" y="328.2" width="5.84" height="6.62" fill="#6666FF" stroke="none" stroke-width="0.8"/>
<rect x="606.49" y="328.2" width="5.84" height="6.62" fill="#9999FF" stroke="none" stroke-width="0.8"/>
<rect x="612.28" y="328.2" width="5.84" height="6.62" fill="#A6A6FF" stroke="none" stroke-width="0.8"/>
<rect x="618.07" y="328.2" width="5.84" height="6.62" fill="#B2B2FF" stroke="none" stroke-width="0.8"/>
<rect x="623.86" y="328.2" width="5.84" height="6.62" fill="#D9D9FF" stroke="none" stroke-width="0.8"/>
<rect x="629.64" y="328.2" width="5.84" height="6.62" fill="#D9D9FF" stroke="none" stroke-width="0.8"/>
<rect x="635.43" y="328.2" width="5.84" height="6.62" fill="#D9D9FF" stroke="none" stroke-width="0.8"/>
<rect x="641.22" y="328.2" width="5.84" height="6.62" fill="#E6E6FF" stroke="none" stroke-width="0.8"/>
<rect x="647.01" y="328.2" width="5.84" height="6.62" fill="#CCCCFF" stroke="none" stroke-width="0.8"/>
<rect x="548.6" y="334.77" width="5.84" height="6.62" fill="#FF8C8C" stroke="none" stroke-width="0.8"/>
<rect x="554.39" y="334.77" width="5.84" height="6.62" fill="#FF5959" stroke="none" stroke-width="0.8"/>
<rect x="560.18" y="334.77" width="5.84" height="6.62" fill="#FF8C8C" stroke="none" stroke-width="0.8"/>
<rect x="565.97" y="334.77" width="5.84" height="6.62" fill="#FF8080" stroke="none" stroke-width="0.8"/>
<rect x="571.76" y="334.77" width="5.84" height="6.62" fill="#FFA6A6" stroke="none" stroke-width="0.8"/>
<rect x="577.54" y="334.77" width="5.84" height="6.62" fill="#FFFFFF" stroke="none" stroke-width="0.8"/>
<rect x="583.33" y="334.77" width="5.84" height="6.62" fill="#CCCCFF" stroke="none" stroke-width="0.8"/>
<rect x="589.12" y="334.77" width="5.84" height="6.62" fill="#B2B2FF" stroke="none" stroke-width="0.8"/>
<rect x="594.91" y="334.77" width="5.84" height="6.62" fill="#B2B2FF" stroke="none" stroke-width="0.8"/>
<rect x="600.7" y="334.77" width="5.84" height="6.62" fill="#A6A6FF" stroke="none" stroke-width="0.8"/>
<rect x="606.49" y="334.77" width="5.84" height="6.62" fill="#8C8CFF" stroke="none" stroke-width="0.8"/>
<rect x="612.28" y="334.77" width="5.84" height="6.62" fill="#8C8CFF" stroke="none" stroke-width="0.8"/>
<rect x="618.07" y="334.77" width="5.84" height="6.62" fill="#CCCCFF" stroke="none" stroke-width="0.8"/>
<rect x="623.86" y="334.77" width="5.84" height="6.62" fill="#CCCCFF" stroke="none" stroke-width="0.8"/>
<rect x="629.64" y="334.77" width="5.84" height="6.62" fill="#E6E6FF" stroke="none" stroke-width="0.8"/>
<rect x="635.43" y="334.77" width="5.84" height="6.62" fill="#E6E6FF" stroke="none" stroke-width="0.8"/>
<rect x="641.22" y="334.77" width="5.84" height="6.62" fill="#D9D9FF" stroke="none" stroke-width="0.8"/>
<rect x="647.01" y="334.77" width="5.84" height="6.62" fill="#D9D9FF" stroke="none" stroke-width="0.8"/>
<rect x="548.6" y="341.35" width="5.84" height="6.62" fill="#FF8C8C" stroke="none" stroke-width="0.8"/>
<rect x="554.39" y="341.35" width="5.84" height="6.62" fill="#FF4040" stroke="none" stroke-width="0.8"/>
<rect x="560.18" y="341.35" width="5.84" height="6.62" fill="#FF8080" stroke="none" stroke-width="0.8"/>
<rect x="565.97" y="341.35" width="5.84" height="6.62" fill="#FF8C8C" stroke="none" stroke-width="0.8"/>
<rect x="571.76" y="341.35" width="5.84" height="6.62" fill="#FFA6A6" stroke="none" stroke-width="0.8"/>
<rect x="577.54" y="341.35" width="5.84" height="6.62" fill="#FFE6E6" stroke="none" stroke-width="0.8"/>
<rect x="583.33" y="341.35" width="5.84" height="6.62" fill="#D9D9FF" stroke="none" stroke-width="0.8"/>
<rect x="589.12" y="341.35" width="5.84" height="6.62" fill="#BFBFFF" stroke="none" stroke-width="0.8"/>
<rect x="594.91" y="341.35" width="5.84" height="6.62" fill="#CCCCFF" stroke="none" stroke-width="0.8"/>
<rect x="600.7" y="341.35" width="5.84" height="6.62" fill="#A6A6FF" stroke="none" stroke-width="0.8"/>
<rect x="606.49" y="341.35" width="5.84" height="6.62" fill="#D9D9FF" stroke="none" stroke-width="0.8"/>
<rect x="612.28" y="341.35" width="5.84" height="6.62" fill="#BFBFFF" stroke="none" stroke-width="0.8"/>
<rect x="618.07" y="341.35" width="5.84" height="6.62" fill="#E6E6FF" stroke="none" stroke-width="0.8"/>
<rect x="623.86" y="341.35" width="5.84" height="6.62" fill="#CCCCFF" stroke="none" stroke-width="0.8"/>
<rect x="629.64" y="341.35" width="5.84" height="6.62" fill="#9999FF" stroke="none" stroke-width="0.8"/>
<rect x="635.43" y="341.35" width="5.84" height="6.62" fill="#D9D9FF" stroke="none" stroke-width="0.8"/>
<rect x="641.22" y="341.35" width="5.84" height="6.62" fill="#BFBFFF" stroke="none" stroke-width="0.8"/>
<rect x="647.01" y="341.35" width="5.84" height="6.62" fill="#BFBFFF" stroke="none" stroke-width="0.8"/>
<rect x="548.6" y="347.92" width="5.84" height="6.62" fill="#6666FF" stroke="none" stroke-width="0.8"/>
<rect x="554.39" y="347.92" width="5.84" height="6.62" fill="#CCCCFF" stroke="none" stroke-width="0.8"/>
<rect x="560.18" y="347.92" width="5.84" height="6.62" fill="#FFFFFF" stroke="none" stroke-width="0.8"/>
<rect x="565.97" y="347.92" width="5.84" height="6.62" fill="#E6E6FF" stroke="none" stroke-width="0.8"/>
<rect x="571.76" y="347.92" width="5.84" height="6.62" fill="#8C8CFF" stroke="none" stroke-width="0.8"/>
<rect x="577.54" y="347.92" width="5.84" height="6.62" fill="#CCCCFF" stroke="none" stroke-width="0.8"/>
<rect x="583.33" y="347.92" width="5.84" height="6.62" fill="#FFBFBF" stroke="none" stroke-width="0.8"/>
<rect x="589.12" y="347.92" width="5.84" height="6.62" fill="#FFBFBF" stroke="none" stroke-width="0.8"/>
<rect x="594.91" y="347.92" width="5.84" height="6.62" fill="#FFFFFF" stroke="none" stroke-width="0.8"/>
<rect x="600.7" y="347.92" width="5.84" height="6.62" fill="#F2F2FF" stroke="none" stroke-width="0.8"/>
<rect x="606.49" y="347.92" width="5.84" height="6.62" fill="#FFCCCC" stroke="none" stroke-width="0.8"/>
<rect x="612.28" y="347.92" width="5.84" height="6.62" fill="#FF3333" stroke="none" stroke-width="0.8"/>
<rect x="618.07" y="347.92" width="5.84" height="6.62" fill="#FF9999" stroke="none" stroke-width="0.8"/>
<rect x="623.86" y="347.92" width="5.84" height="6.62" fill="#D9D9FF" stroke="none" stroke-width="0.8"/>
<rect x="629.64" y="347.92" width="5.84" height="6.62" fill="#FFCCCC" stroke="none" stroke-width="0.8"/>
<rect x="635.43" y="347.92" width="5.84" height="6.62" fill="#FFFFFF" stroke="none" stroke-width="0.8"/>
<rect x="641.22" y="347.92" width="5.84" height="6.62" fill="#E6E6FF" stroke="none" stroke-width="0.8"/>
<rect x="647.01" y="347.92" width="5.84" height="6.62" fill="#9999FF" stroke="none" stroke-width="0.8"/>
<rect x="548.6" y="354.49" width="5.84" height="6.62" fill="#0000FF" stroke="none" stroke-width="0.8"/>
<rect x="554.39" y="354.49" width="5.84" height="6.62" fill="#8080FF" stroke="none" stroke-width="0.8"/>
<rect x="560.18" y="354.49" width="5.84" height="6.62" fill="#E6E6FF" stroke="none" stroke-width="0.8"/>
<rect x="565.97" y="354.49" width="5.84" height="6.62" fill="#FFFFFF" stroke="none" stroke-width="0.8"/>
<rect x="571.76" y="354.49" width="5.84" height="6.62" fill="#E6E6FF" stroke="none" stroke-width="0.8"/>
<rect x="577.54" y="354.49" width="5.84" height="6.62" fill="#D9D9FF" stroke="none" stroke-width="0.8"/>
<rect x="583.33" y="354.49" width="5.84" height="6.62" fill="#FFA6A6" stroke="none" stroke-width="0.8"/>
<rect x="589.12" y="354.49" width="5.84" height="6.62" fill="#FFD9D9" stroke="none" stroke-width="0.8"/>
<rect x="594.91" y="354.49" width="5.84" height="6.62" fill="#FF9999" stroke="none" stroke-width="0.8"/>
<rect x="600.7" y="354.49" width="5.84" height="6.62" fill="#FFBFBF" stroke="none" stroke-width="0.8"/>
<rect x="606.49" y="354.49" width="5.84" height="6.62" fill="#FFD9D9" stroke="none" stroke-width="0.8"/>
<rect x="612.28" y="354.49" width="5.84" height="6.62" fill="#FF8C8C" stroke="none" stroke-width="0.8"/>
<rect x="618.07" y="354.49" width="5.84" height="6.62" fill="#FFD9D9" stroke="none" stroke-width="0.8"/>
<rect x="623.86" y="354.49" width="5.84" height="6.62" fill="#FFE6E6" stroke="none" stroke-width="0.8"/>
<rect x="629.64" y="354.49" width="5.84" height="6.62" fill="#D9D9FF" stroke="none" stroke-width="0.8"/>
<rect x="635.43" y="354.49" width="5.84" height="6.62" fill="#FFCCCC" stroke="none" stroke-width="0.8"/>
<rect x="641.22" y="354.49" width="5.84" height="6.62" fill="#D9D9FF" stroke="none" stroke-width="0.8"/>
<rect x="647.01" y="354.49" width="5.84" height="6.62" fill="#FFCCCC" stroke="none" stroke-width="0.8"/>
<rect x="548.6" y="361.07" width="5.84" height="6.62" fill="#F2F2FF" stroke="none" stroke-width="0.8"/>
<rect x="554.39" y="361.07" width="5.84" height="6.62" fill="#D9D9FF" stroke="none" stroke-width="0.8"/>
<rect x="560.18" y="361.07" width="5.84" height="6.62" fill="#E6E6FF" stroke="none" stroke-width="0.8"/>
<rect x="565.97" y="361.07" width="5.84" height="6.62" fill="#BFBFFF" stroke="none" stroke-width="0.8"/>
<rect x="571.76" y="361.07" width="5.84" height="6.62" fill="#E6E6FF" stroke="none" stroke-width="0.8"/>
<rect x="577.54" y="361.07" width="5.84" height="6.62" fill="#FFCCCC" stroke="none" stroke-width="0.8"/>
<rect x="583.33" y="361.07" width="5.84" height="6.62" fill="#D9D9FF" stroke="none" stroke-width="0.8"/>
<rect x="589.12" y="361.07" width="5.84" height="6.62" fill="#FFBFBF" stroke="none" stroke-width="0.8"/>
<rect x="594.91" y="361.07" width="5.84" height="6.62" fill="#FF6666" stroke="none" stroke-width="0.8"/>
<rect x="600.7" y="361.07" width="5.84" height="6.62" fill="#FFBFBF" stroke="none" stroke-width="0.8"/>
<rect x="606.49" y="361.07" width="5.84" height="6.62" fill="#FFE6E6" stroke="none" stroke-width="0.8"/>
<rect x="612.28" y="361.07" width="5.84" height="6.62" fill="#FF6666" stroke="none" stroke-width="0.8"/>
<rect x="618.07" y="361.07" width="5.84" height="6.62" fill="#B2B2FF" stroke="none" stroke-width="0.8"/>
<rect x="623.86" y="361.07" width="5.84" height="6.62" fill="#B2B2FF" stroke="none" stroke-width="0.8"/>
<rect x="629.64" y="361.07" width="5.84" height="6.62" fill="#B2B2FF" stroke="none" stroke-width="0.8"/>
<rect x="635.43" y="361.07" width="5.84" height="6.62" fill="#A6A6FF" stroke="none" stroke-width="0.8"/>
<rect x="641.22" y="361.07" width="5.84" height="6.62" fill="#8C8CFF" stroke="none" stroke-width="0.8"/>
<rect x="647.01" y="361.07" width="5.84" height="6.62" fill="#9999FF" stroke="none" stroke-width="0.8"/>
<rect x="548.6" y="367.64" width="5.84" height="6.62" fill="#BFBFFF" stroke="none" stroke-width="0.8"/>
<rect x="554.39" y="367.64" width="5.84" height="6.62" fill="#BFBFFF" stroke="none" stroke-width="0.8"/>
<rect x="560.18" y="367.64" width="5.84" height="6.62" fill="#BFBFFF" stroke="none" stroke-width="0.8"/>
<rect x="565.97" y="367.64" width="5.84" height="6.62" fill="#CCCCFF" stroke="none" stroke-width="0.8"/>
<rect x="571.76" y="367.64" width="5.84" height="6.62" fill="#CCCCFF" stroke="none" stroke-width="0.8"/>
<rect x="577.54" y="367.64" width="5.84" height="6.62" fill="#BFBFFF" stroke="none" stroke-width="0.8"/>
<rect x="583.33" y="367.64" width="5.84" height="6.62" fill="#FFFFFF" stroke="none" stroke-width="0.8"/>
<rect x="589.12" y="367.64" width="5.84" height="6.62" fill="#FFD9D9" stroke="none" stroke-width="0.8"/>
<rect x="594.91" y="367.64" width="5.84" height="6.62" fill="#FF5959" stroke="none" stroke-width="0.8"/>
<rect x="600.7" y="367.64" width="5.84" height="6.62" fill="#FFB2B2" stroke="none" stroke-width="0.8"/>
<rect x="606.49" y="367.64" width="5.84" height="6.62" fill="#FFD9D9" stroke="none" stroke-width="0.8"/>
<rect x="612.28" y="367.64" width="5.84" height="6.62" fill="#FF5959" stroke="none" stroke-width="0.8"/>
<rect x="618.07" y="367.64" width="5.84" height="6.62" fill="#E6E6FF" stroke="none" stroke-width="0.8"/>
<rect x="623.86" y="367.64" width="5.84" height="6.62" fill="#FF9999" stroke="none" stroke-width="0.8"/>
<rect x="629.64" y="367.64" width="5.84" height="6.62" fill="#CCCCFF" stroke="none" stroke-width="0.8"/>
<rect x="635.43" y="367.64" width="5.84" height="6.62" fill="#BFBFFF" stroke="none" stroke-width="0.8"/>
<rect x="641.22" y="367.64" width="5.84" height="6.62" fill="#B2B2FF" stroke="none" stroke-width="0.8"/>
<rect x="647.01" y="367.64" width="5.84" height="6.62" fill="#BFBFFF" stroke="none" stroke-width="0.8"/>
<rect x="548.6" y="374.21" width="5.84" height="6.62" fill="#CCCCFF" stroke="none" stroke-width="0.8"/>
<rect x="554.39" y="374.21" width="5.84" height="6.62" fill="#CCCCFF" stroke="none" stroke-width="0.8"/>
<rect x="560.18" y="374.21" width="5.84" height="6.62" fill="#CCCCFF" stroke="none" stroke-width="0.8"/>
<rect x="565.97" y="374.21" width="5.84" height="6.62" fill="#CCCCFF" stroke="none" stroke-width="0.8"/>
<rect x="571.76" y="374.21" width="5.84" height="6.62" fill="#CCCCFF" stroke="none" stroke-width="0.8"/>
<rect x="577.54" y="374.21" width="5.84" height="6.62" fill="#CCCCFF" stroke="none" stroke-width="0.8"/>
<rect x="583.33" y="374.21" width="5.84" height="6.62" fill="#CCCCFF" stroke="none" stroke-width="0.8"/>
<rect x="589.12" y="374.21" width="5.84" height="6.62" fill="#FFD9D9" stroke="none" stroke-width="0.8"/>
<rect x="594.91" y="374.21" width="5.84" height="6.62" fill="#FF8080" stroke="none" stroke-width="0.8"/>
<rect x="600.7" y="374.21" width="5.84" height="6.62" fill="#FFCCCC" stroke="none" stroke-width="0.8"/>
<rect x="606.49" y="374.21" width="5.84" height="6.62" fill="#FF0000" stroke="none" stroke-width="0.8"/>
<rect x="612.28" y="374.21" width="5.84" height="6.62" fill="#FFD9D9" stroke="none" stroke-width="0.8"/>
<rect x="618.07" y="374.21" width="5.84" height="6.62" fill="#E6E6FF" stroke="none" stroke-width="0.8"/>
<rect x="623.86" y="374.21" width="5.84" height="6.62" fill="#D9D9FF" stroke="none" stroke-width="0.8"/>
<rect x="629.64" y="374.21" width="5.84" height="6.62" fill="#D9D9FF" stroke="none" stroke-width="0.8"/>
<rect x="635.43" y="374.21" width="5.84" height="6.62" fill="#BFBFFF" stroke="none" stroke-width="0.8"/>
<rect x="641.22" y="374.21" width="5.84" height="6.62" fill="#BFBFFF" stroke="none" stroke-width="0.8"/>
<rect x="647.01" y="374.21" width="5.84" height="6.62" fill="#CCCCFF" stroke="none" stroke-width="0.8"/>
<rect x="548.6" y="380.79" width="5.84" height="6.62" fill="#9999FF" stroke="none" stroke-width="0.8"/>
<rect x="554.39" y="380.79" width="5.84" height="6.62" fill="#B2B2FF" stroke="none" stroke-width="0.8"/>
<rect x="560.18" y="380.79" width="5.84" height="6.62" fill="#9999FF" stroke="none" stroke-width="0.8"/>
<rect x="565.97" y="380.79" width="5.84" height="6.62" fill="#B2B2FF" stroke="none" stroke-width="0.8"/>
<rect x="571.76" y="380.79" width="5.84" height="6.62" fill="#8C8CFF" stroke="none" stroke-width="0.8"/>
<rect x="577.54" y="380.79" width="5.84" height="6.62" fill="#9999FF" stroke="none" stroke-width="0.8"/>
<rect x="583.33" y="380.79" width="5.84" height="6.62" fill="#FFB2B2" stroke="none" stroke-width="0.8"/>
<rect x="589.12" y="380.79" width="5.84" height="6.62" fill="#FFCCCC" stroke="none" stroke-width="0.8"/>
<rect x="594.91" y="380.79" width="5.84" height="6.62" fill="#FF9999" stroke="none" stroke-width="0.8"/>
<rect x="600.7" y="380.79" width="5.84" height="6.62" fill="#FFF2F2" stroke="none" stroke-width="0.8"/>
<rect x="606.49" y="380.79" width="5.84" height="6.62" fill="#FF7373" stroke="none" stroke-width="0.8"/>
<rect x="612.28" y="380.79" width="5.84" height="6.62" fill="#FF9999" stroke="none" stroke-width="0.8"/>
<rect x="618.07" y="380.79" width="5.84" height="6.62" fill="#F2F2FF" stroke="none" stroke-width="0.8"/>
<rect x="623.86" y="380.79" width="5.84" height="6.62" fill="#CCCCFF" stroke="none" stroke-width="0.8"/>
<rect x="629.64" y="380.79" width="5.84" height="6.62" fill="#FFB2B2" stroke="none" stroke-width="0.8"/>
<rect x="635.43" y="380.79" width="5.84" height="6.62" fill="#FFBFBF" stroke="none" stroke-width="0.8"/>
<rect x="641.22" y="380.79" width="5.84" height="6.62" fill="#B2B2FF" stroke="none" stroke-width="0.8"/>
<rect x="647.01" y="380.79" width="5.84" height="6.62" fill="#B2B2FF" stroke="none" stroke-width="0.8"/>
<rect x="548.6" y="387.36" width="5.84" height="6.62" fill="#ECECFF" stroke="none" stroke-width="0.8"/>
<rect x="554.39" y="387.36" width="5.84" height="6.62" fill="#A6A6FF" stroke="none" stroke-width="0.8"/>
<rect x="560.18" y="387.36" width="5.84" height="6.62" fill="#A6A6FF" stroke="none" stroke-width="0.8"/>
<rect x="565.97" y="387.36" width="5.84" height="6.62" fill="#A6A6FF" stroke="none" stroke-width="0.8"/>
<rect x="571.76" y="387.36" width="5.84" height="6.62" fill="#D9D9FF" stroke="none" stroke-width="0.8"/>
<rect x="577.54" y="387.36" width="5.84" height="6.62" fill="#9999FF" stroke="none" stroke-width="0.8"/>
<rect x="583.33" y="387.36" width="5.84" height="6.62" fill="#E6E6FF" stroke="none" stroke-width="0.8"/>
<rect x="589.12" y="387.36" width="5.84" height="6.62" fill="#FFCCCC" stroke="none" stroke-width="0.8"/>
<rect x="594.91" y="387.36" width="5.84" height="6.62" fill="#FFA6A6" stroke="none" stroke-width="0.8"/>
<rect x="600.7" y="387.36" width="5.84" height="6.62" fill="#FF6666" stroke="none" stroke-width="0.8"/>
<rect x="606.49" y="387.36" width="5.84" height="6.62" fill="#FFA6A6" stroke="none" stroke-width="0.8"/>
<rect x="612.28" y="387.36" width="5.84" height="6.62" fill="#FF9999" stroke="none" stroke-width="0.8"/>
<rect x="618.07" y="387.36" width="5.84" height="6.62" fill="#E6E6FF" stroke="none" stroke-width="0.8"/>
<rect x="623.86" y="387.36" width="5.84" height="6.62" fill="#FFF2F2" stroke="none" stroke-width="0.8"/>
<rect x="629.64" y="387.36" width="5.84" height="6.62" fill="#D9D9FF" stroke="none" stroke-width="0.8"/>
<rect x="635.43" y="387.36" width="5.84" height="6.62" fill="#FFFFFF" stroke="none" stroke-width="0.8"/>
<rect x="641.22" y="387.36" width="5.84" height="6.62" fill="#9999FF" stroke="none" stroke-width="0.8"/>
<rect x="647.01" y="387.36" width="5.84" height="6.62" fill="#FFCCCC" stroke="none" stroke-width="0.8"/>
<rect x="548.6" y="393.93" width="5.84" height="6.62" fill="#BFBFFF" stroke="none" stroke-width="0.8"/>
<rect x="554.39" y="393.93" width="5.84" height="6.62" fill="#B2B2FF" stroke="none" stroke-width="0.8"/>
<rect x="560.18" y="393.93" width="5.84" height="6.62" fill="#A6A6FF" stroke="none" stroke-width="0.8"/>
<rect x="565.97" y="393.93" width="5.84" height="6.62" fill="#CCCCFF" stroke="none" stroke-width="0.8"/>
<rect x="571.76" y="393.93" width="5.84" height="6.62" fill="#CCCCFF" stroke="none" stroke-width="0.8"/>
<rect x="577.54" y="393.93" width="5.84" height="6.62" fill="#A6A6FF" stroke="none" stroke-width="0.8"/>
<rect x="583.33" y="393.93" width="5.84" height="6.62" fill="#ECECFF" stroke="none" stroke-width="0.8"/>
<rect x="589.12" y="393.93" width="5.84" height="6.62" fill="#FFBFBF" stroke="none" stroke-width="0.8"/>
<rect x="594.91" y="393.93" width="5.84" height="6.62" fill="#FF4040" stroke="none" stroke-width="0.8"/>
<rect x="600.7" y="393.93" width="5.84" height="6.62" fill="#FF4D4D" stroke="none" stroke-width="0.8"/>
<rect x="606.49" y="393.93" width="5.84" height="6.62" fill="#FFB2B2" stroke="none" stroke-width="0.8"/>
<rect x="612.28" y="393.93" width="5.84" height="6.62" fill="#FFA6A6" stroke="none" stroke-width="0.8"/>
<rect x="618.07" y="393.93" width="5.84" height="6.62" fill="#ECECFF" stroke="none" stroke-width="0.8"/>
<rect x="623.86" y="393.93" width="5.84" height="6.62" fill="#FFCCCC" stroke="none" stroke-width="0.8"/>
<rect x="629.64" y="393.93" width="5.84" height="6.62" fill="#F2F2FF" stroke="none" stroke-width="0.8"/>
<rect x="635.43" y="393.93" width="5.84" height="6.62" fill="#CCCCFF" stroke="none" stroke-width="0.8"/>
<rect x="641.22" y="393.93" width="5.84" height="6.62" fill="#CCCCFF" stroke="none" stroke-width="0.8"/>
<rect x="647.01" y="393.93" width="5.84" height="6.62" fill="#CCCCFF" stroke="none" stroke-width="0.8"/>
<rect x="548.6" y="400.51" width="5.84" height="6.62" fill="#BFBFFF" stroke="none" stroke-width="0.8"/>
<rect x="554.39" y="400.51" width="5.84" height="6.62" fill="#BFBFFF" stroke="none" stroke-width="0.8"/>
<rect x="560.18" y="400.51" width="5.84" height="6.62" fill="#A6A6FF" stroke="none" stroke-width="0.8"/>
<rect x="565.97" y="400.51" width="5.84" height="6.62" fill="#CCCCFF" stroke="none" stroke-width="0.8"/>
<rect x="571.76" y="400.51" width="5.84" height="6.62" fill="#CCCCFF" stroke="none" stroke-width="0.8"/>
<rect x="577.54" y="400.51" width="5.84" height="6.62" fill="#A6A6FF" stroke="none" stroke-width="0.8"/>
<rect x="583.33" y="400.51" width="5.84" height="6.62" fill="#FFE6E6" stroke="none" stroke-width="0.8"/>
<rect x="589.12" y="400.51" width="5.84" height="6.62" fill="#FFBFBF" stroke="none" stroke-width="0.8"/>
<rect x="594.91" y="400.51" width="5.84" height="6.62" fill="#FF7373" stroke="none" stroke-width="0.8"/>
<rect x="600.7" y="400.51" width="5.84" height="6.62" fill="#FF7373" stroke="none" stroke-width="0.8"/>
<rect x="606.49" y="400.51" width="5.84" height="6.62" fill="#FF8080" stroke="none" stroke-width="0.8"/>
<rect x="612.28" y="400.51" width="5.84" height="6.62" fill="#FFB2B2" stroke="none" stroke-width="0.8"/>
<rect x="618.07" y="400.51" width="5.84" height="6.62" fill="#E6E6FF" stroke="none" stroke-width="0.8"/>
<rect x="623.86" y="400.51" width="5.84" height="6.62" fill="#FFD9D9" stroke="none" stroke-width="0.8"/>
<rect x="629.64" y="400.51" width="5.84" height="6.62" fill="#ECECFF" stroke="none" stroke-width="0.8"/>
<rect x="635.43" y="400.51" width="5.84" height="6.62" fill="#9999FF" stroke="none" stroke-width="0.8"/>
<rect x="641.22" y="400.51" width="5.84" height="6.62" fill="#BFBFFF" stroke="none" stroke-width="0.8"/>
<rect x="647.01" y="400.51" width="5.84" height="6.62" fill="#BFBFFF" stroke="none" stroke-width="0.8"/>
<rect x="548.6" y="407.08" width="5.84" height="6.62" fill="#D9D9FF" stroke="none" stroke-width="0.8"/>
<rect x="554.39" y="407.08" width="5.84" height="6.62" fill="#B2B2FF" stroke="none" stroke-width="0.8"/>
<rect x="560.18" y="407.08" width="5.84" height="6.62" fill="#A6A6FF" stroke="none" stroke-width="0.8"/>
<rect x="565.97" y="407.08" width="5.84" height="6.62" fill="#CCCCFF" stroke="none" stroke-width="0.8"/>
<rect x="571.76" y="407.08" width="5.84" height="6.62" fill="#F9F9FF" stroke="none" stroke-width="0.8"/>
<rect x="577.54" y="407.08" width="5.84" height="6.62" fill="#B2B2FF" stroke="none" stroke-width="0.8"/>
<rect x="583.33" y="407.08" width="5.84" height="6.62" fill="#E6E6FF" stroke="none" stroke-width="0.8"/>
<rect x="589.12" y="407.08" width="5.84" height="6.62" fill="#FFB2B2" stroke="none" stroke-width="0.8"/>
<rect x="594.91" y="407.08" width="5.84" height="6.62" fill="#FFCCCC" stroke="none" stroke-width="0.8"/>
<rect x="600.7" y="407.08" width="5.84" height="6.62" fill="#FF4D4D" stroke="none" stroke-width="0.8"/>
<rect x="606.49" y="407.08" width="5.84" height="6.62" fill="#FF8C8C" stroke="none" stroke-width="0.8"/>
<rect x="612.28" y="407.08" width="5.84" height="6.62" fill="#FFA6A6" stroke="none" stroke-width="0.8"/>
<rect x="618.07" y="407.08" width="5.84" height="6.62" fill="#F9F9FF" stroke="none" stroke-width="0.8"/>
<rect x="623.86" y="407.08" width="5.84" height="6.62" fill="#FFF9F9" stroke="none" stroke-width="0.8"/>
<rect x="629.64" y="407.08" width="5.84" height="6.62" fill="#BFBFFF" stroke="none" stroke-width="0.8"/>
<rect x="635.43" y="407.08" width="5.84" height="6.62" fill="#9999FF" stroke="none" stroke-width="0.8"/>
<rect x="641.22" y="407.08" width="5.84" height="6.62" fill="#CCCCFF" stroke="none" stroke-width="0.8"/>
<rect x="647.01" y="407.08" width="5.84" height="6.62" fill="#CCCCFF" stroke="none" stroke-width="0.8"/>
<rect x="548.6" y="413.65" width="5.84" height="6.62" fill="#D9D9FF" stroke="none" stroke-width="0.8"/>
<rect x="554.39" y="413.65" width="5.84" height="6.62" fill="#CCCCFF" stroke="none" stroke-width="0.8"/>
<rect x="560.18" y="413.65" width="5.84" height="6.62" fill="#9999FF" stroke="none" stroke-width="0.8"/>
<rect x="565.97" y="413.65" width="5.84" height="6.62" fill="#F9F9FF" stroke="none" stroke-width="0.8"/>
<rect x="571.76" y="413.65" width="5.84" height="6.62" fill="#E6E6FF" stroke="none" stroke-width="0.8"/>
<rect x="577.54" y="413.65" width="5.84" height="6.62" fill="#8C8CFF" stroke="none" stroke-width="0.8"/>
<rect x="583.33" y="413.65" width="5.84" height="6.62" fill="#FFFFFF" stroke="none" stroke-width="0.8"/>
<rect x="589.12" y="413.65" width="5.84" height="6.62" fill="#FF8C8C" stroke="none" stroke-width="0.8"/>
<rect x="594.91" y="413.65" width="5.84" height="6.62" fill="#FF9999" stroke="none" stroke-width="0.8"/>
<rect x="600.7" y="413.65" width="5.84" height="6.62" fill="#FFB2B2" stroke="none" stroke-width="0.8"/>
<rect x="606.49" y="413.65" width="5.84" height="6.62" fill="#FF5959" stroke="none" stroke-width="0.8"/>
<rect x="612.28" y="413.65" width="5.84" height="6.62" fill="#FFE6E6" stroke="none" stroke-width="0.8"/>
<rect x="618.07" y="413.65" width="5.84" height="6.62" fill="#D9D9FF" stroke="none" stroke-width="0.8"/>
<rect x="623.86" y="413.65" width="5.84" height="6.62" fill="#FFF9F9" stroke="none" stroke-width="0.8"/>
<rect x="629.64" y="413.65" width="5.84" height="6.62" fill="#D9D9FF" stroke="none" stroke-width="0.8"/>
<rect x="635.43" y="413.65" width="5.84" height="6.62" fill="#A6A6FF" stroke="none" stroke-width="0.8"/>
<rect x="641.22" y="413.65" width="5.84" height="6.62" fill="#D9D9FF" stroke="none" stroke-width="0.8"/>
<rect x="647.01" y="413.65" width="5.84" height="6.62" fill="#D9D9FF" stroke="none" stroke-width="0.8"/>
<rect x="548.6" y="420.23" width="5.84" height="6.62" fill="#BFBFFF" stroke="none" stroke-width="0.8"/>
<rect x="554.39" y="420.23" width="5.84" height="6.62" fill="#B2B2FF" stroke="none" stroke-width="0.8"/>
<rect x="560.18" y="420.23" width="5.84" height="6.62" fill="#7373FF" stroke="none" stroke-width="0.8"/>
<rect x="565.97" y="420.23" width="5.84" height="6.62" fill="#F2F2FF" stroke="none" stroke-width="0.8"/>
<rect x="571.76" y="420.23" width="5.84" height="6.62" fill="#E6E6FF" stroke="none" stroke-width="0.8"/>
<rect x="577.54" y="420.23" width="5.84" height="6.62" fill="#6666FF" stroke="none" stroke-width="0.8"/>
<rect x="583.33" y="420.23" width="5.84" height="6.62" fill="#FFFFFF" stroke="none" stroke-width="0.8"/>
<rect x="589.12" y="420.23" width="5.84" height="6.62" fill="#FF8C8C" stroke="none" stroke-width="0.8"/>
<rect x="594.91" y="420.23" width="5.84" height="6.62" fill="#FFCCCC" stroke="none" stroke-width="0.8"/>
<rect x="600.7" y="420.23" width="5.84" height="6.62" fill="#FF8080" stroke="none" stroke-width="0.8"/>
<rect x="606.49" y="420.23" width="5.84" height="6.62" fill="#FF8C8C" stroke="none" stroke-width="0.8"/>
<rect x="612.28" y="420.23" width="5.84" height="6.62" fill="#FFE6E6" stroke="none" stroke-width="0.8"/>
<rect x="618.07" y="420.23" width="5.84" height="6.62" fill="#FFFFFF" stroke="none" stroke-width="0.8"/>
<rect x="623.86" y="420.23" width="5.84" height="6.62" fill="#FFE6E6" stroke="none" stroke-width="0.8"/>
<rect x="629.64" y="420.23" width="5.84" height="6.62" fill="#F9F9FF" stroke="none" stroke-width="0.8"/>
<rect x="635.43" y="420.23" width="5.84" height="6.62" fill="#CCCCFF" stroke="none" stroke-width="0.8"/>
<rect x="641.22" y="420.23" width="5.84" height="6.62" fill="#CCCCFF" stroke="none" stroke-width="0.8"/>
<rect x="647.01" y="420.23" width="5.84" height="6.62" fill="#CCCCFF" stroke="none" stroke-width="0.8"/>
</g>
<rect x="548.6" y="226" width="34.73" height="3" fill="#F8766D" stroke="none" stroke-width="0.8"/>
<rect x="583.33" y="226" width="34.73" height="3" fill="#74A9F6" stroke="none" stroke-width="0.8"/>
<rect x="618.07" y="226" width="34.73" height="3" fill="#00C453" stroke="none" stroke-width="0.8"/>
<text transform="translate(653.9 228.82) scale(0.1)" font-size="34" text-anchor="start" fill="#000" font-weight="bold" stroke="#000" stroke-width="1">Group</text>
<text transform="translate(653.9 234.77) scale(0.1)" font-size="41.3" text-anchor="start" fill="#111" stroke="#111" stroke-width="1">L- Arginine</text>
<text transform="translate(653.9 241.35) scale(0.1)" font-size="41.3" text-anchor="start" fill="#111" stroke="#111" stroke-width="1">L- Proline</text>
<text transform="translate(653.9 247.92) scale(0.1)" font-size="41.3" text-anchor="start" fill="#111" stroke="#111" stroke-width="1">TG(18:0/18:3(9Z,9Z,12Z)/20:0)</text>
<text transform="translate(653.9 254.49) scale(0.1)" font-size="41.3" text-anchor="start" fill="#111" stroke="#111" stroke-width="1">TG(14:0/24:0/18:3(9Z,12Z,15Z))</text>
<text transform="translate(653.9 261.07) scale(0.1)" font-size="41.3" text-anchor="start" fill="#111" stroke="#111" stroke-width="1">4- Hydroxyproline</text>
<text transform="translate(653.9 267.64) scale(0.1)" font-size="41.3" text-anchor="start" fill="#111" stroke="#111" stroke-width="1">Glutathione</text>
<text transform="translate(653.9 274.21) scale(0.1)" font-size="41.3" text-anchor="start" fill="#111" stroke="#111" stroke-width="1">L- Tyrosine</text>
<text transform="translate(653.9 280.79) scale(0.1)" font-size="41.3" text-anchor="start" fill="#111" stroke="#111" stroke-width="1">L- Tryptophan</text>
<text transform="translate(653.9 287.36) scale(0.1)" font-size="41.3" text-anchor="start" fill="#111" stroke="#111" stroke-width="1">Phytosphingosine</text>
<text transform="translate(653.9 293.93) scale(0.1)" font-size="41.3" text-anchor="start" fill="#111" stroke="#111" stroke-width="1">Docosapentaenoic acid</text>
<text transform="translate(653.9 300.51) scale(0.1)" font-size="41.3" text-anchor="start" fill="#111" stroke="#111" stroke-width="1">Glycerophosphocholine</text>
<text transform="translate(653.9 307.08) scale(0.1)" font-size="41.3" text-anchor="start" fill="#111" stroke="#111" stroke-width="1">LysoPC(18:0)</text>
<text transform="translate(653.9 313.65) scale(0.1)" font-size="41.3" text-anchor="start" fill="#111" stroke="#111" stroke-width="1">Stachyose</text>
<text transform="translate(653.9 320.23) scale(0.1)" font-size="41.3" text-anchor="start" fill="#111" stroke="#111" stroke-width="1">TG(14:0/22:0/20:3n6)</text>
<text transform="translate(653.9 326.8) scale(0.1)" font-size="41.3" text-anchor="start" fill="#111" stroke="#111" stroke-width="1">LysoPC(20:0)</text>
<text transform="translate(653.9 333.37) scale(0.1)" font-size="41.3" text-anchor="start" fill="#111" stroke="#111" stroke-width="1">TG(16:0/18:2(9Z,12Z)/16:1(9Z))</text>
<text transform="translate(653.9 339.95) scale(0.1)" font-size="41.3" text-anchor="start" fill="#111" stroke="#111" stroke-width="1">PC(o- 18:0/24:0)</text>
<text transform="translate(653.9 346.52) scale(0.1)" font-size="41.3" text-anchor="start" fill="#111" stroke="#111" stroke-width="1">Citrulline</text>
<text transform="translate(653.9 353.09) scale(0.1)" font-size="41.3" text-anchor="start" fill="#111" stroke="#111" stroke-width="1">Palmitic acid</text>
<text transform="translate(653.9 359.67) scale(0.1)" font-size="41.3" text-anchor="start" fill="#111" stroke="#111" stroke-width="1">Creatine</text>
<text transform="translate(653.9 366.24) scale(0.1)" font-size="41.3" text-anchor="start" fill="#111" stroke="#111" stroke-width="1">Hypoxanthine</text>
<text transform="translate(653.9 372.81) scale(0.1)" font-size="41.3" text-anchor="start" fill="#111" stroke="#111" stroke-width="1">Melibiose</text>
<text transform="translate(653.9 379.39) scale(0.1)" font-size="41.3" text-anchor="start" fill="#111" stroke="#111" stroke-width="1">Inosine</text>
<text transform="translate(653.9 385.96) scale(0.1)" font-size="41.3" text-anchor="start" fill="#111" stroke="#111" stroke-width="1">Phosphatidylserine</text>
<text transform="translate(653.9 392.53) scale(0.1)" font-size="41.3" text-anchor="start" fill="#111" stroke="#111" stroke-width="1">Prostaglandin E2</text>
<text transform="translate(653.9 399.11) scale(0.1)" font-size="41.3" text-anchor="start" fill="#111" stroke="#111" stroke-width="1">L- Histidine</text>
<text transform="translate(653.9 405.68) scale(0.1)" font-size="41.3" text-anchor="start" fill="#111" stroke="#111" stroke-width="1">ADP</text>
<text transform="translate(653.9 412.25) scale(0.1)" font-size="41.3" text-anchor="start" fill="#111" stroke="#111" stroke-width="1">Pyruvic acid</text>
<text transform="translate(653.9 418.83) scale(0.1)" font-size="41.3" text-anchor="start" fill="#111" stroke="#111" stroke-width="1">Xanthosine</text>
<text transform="translate(653.9 425.4) scale(0.1)" font-size="41.3" text-anchor="start" fill="#111" stroke="#111" stroke-width="1">Beta- Alanine</text>
<line x1="545.6" y1="232.89" x2="548.6" y2="232.89" stroke="#9A9A9A" stroke-width="0.45"/>
<line x1="545.6" y1="239.46" x2="548.6" y2="239.46" stroke="#9A9A9A" stroke-width="0.45"/>
<line x1="545.6" y1="232.89" x2="545.6" y2="239.46" stroke="#9A9A9A" stroke-width="0.45"/>
<line x1="546.8" y1="246.03" x2="548.6" y2="246.03" stroke="#9A9A9A" stroke-width="0.45"/>
<line x1="546.8" y1="252.61" x2="548.6" y2="252.61" stroke="#9A9A9A" stroke-width="0.45"/>
<line x1="546.8" y1="246.03" x2="546.8" y2="252.61" stroke="#9A9A9A" stroke-width="0.45"/>
<line x1="543.8" y1="236.17" x2="545.6" y2="236.17" stroke="#9A9A9A" stroke-width="0.45"/>
<line x1="543.8" y1="249.32" x2="546.8" y2="249.32" stroke="#9A9A9A" stroke-width="0.45"/>
<line x1="543.8" y1="236.17" x2="543.8" y2="249.32" stroke="#9A9A9A" stroke-width="0.45"/>
<line x1="546.6" y1="265.75" x2="548.6" y2="265.75" stroke="#9A9A9A" stroke-width="0.45"/>
<line x1="546.6" y1="272.33" x2="548.6" y2="272.33" stroke="#9A9A9A" stroke-width="0.45"/>
<line x1="546.6" y1="265.75" x2="546.6" y2="272.33" stroke="#9A9A9A" stroke-width="0.45"/>
<line x1="545.5" y1="269.04" x2="546.6" y2="269.04" stroke="#9A9A9A" stroke-width="0.45"/>
<line x1="545.5" y1="278.9" x2="548.6" y2="278.9" stroke="#9A9A9A" stroke-width="0.45"/>
<line x1="545.5" y1="269.04" x2="545.5" y2="278.9" stroke="#9A9A9A" stroke-width="0.45"/>
<line x1="544.2" y1="259.18" x2="548.6" y2="259.18" stroke="#9A9A9A" stroke-width="0.45"/>
<line x1="544.2" y1="273.97" x2="545.5" y2="273.97" stroke="#9A9A9A" stroke-width="0.45"/>
<line x1="544.2" y1="259.18" x2="544.2" y2="273.97" stroke="#9A9A9A" stroke-width="0.45"/>
<line x1="546" y1="285.47" x2="548.6" y2="285.47" stroke="#9A9A9A" stroke-width="0.45"/>
<line x1="546" y1="292.05" x2="548.6" y2="292.05" stroke="#9A9A9A" stroke-width="0.45"/>
<line x1="546" y1="285.47" x2="546" y2="292.05" stroke="#9A9A9A" stroke-width="0.45"/>
<line x1="543.6" y1="288.76" x2="546" y2="288.76" stroke="#9A9A9A" stroke-width="0.45"/>
<line x1="543.6" y1="298.62" x2="548.6" y2="298.62" stroke="#9A9A9A" stroke-width="0.45"/>
<line x1="543.6" y1="288.76" x2="543.6" y2="298.62" stroke="#9A9A9A" stroke-width="0.45"/>
<line x1="542.2" y1="266.57" x2="544.2" y2="266.57" stroke="#9A9A9A" stroke-width="0.45"/>
<line x1="542.2" y1="293.69" x2="543.6" y2="293.69" stroke="#9A9A9A" stroke-width="0.45"/>
<line x1="542.2" y1="266.57" x2="542.2" y2="293.69" stroke="#9A9A9A" stroke-width="0.45"/>
<line x1="540.6" y1="242.75" x2="543.8" y2="242.75" stroke="#9A9A9A" stroke-width="0.45"/>
<line x1="540.6" y1="280.13" x2="542.2" y2="280.13" stroke="#9A9A9A" stroke-width="0.45"/>
<line x1="540.6" y1="242.75" x2="540.6" y2="280.13" stroke="#9A9A9A" stroke-width="0.45"/>
<line x1="546.4" y1="305.19" x2="548.6" y2="305.19" stroke="#9A9A9A" stroke-width="0.45"/>
<line x1="546.4" y1="311.77" x2="548.6" y2="311.77" stroke="#9A9A9A" stroke-width="0.45"/>
<line x1="546.4" y1="305.19" x2="546.4" y2="311.77" stroke="#9A9A9A" stroke-width="0.45"/>
<line x1="546" y1="318.34" x2="548.6" y2="318.34" stroke="#9A9A9A" stroke-width="0.45"/>
<line x1="546" y1="324.91" x2="548.6" y2="324.91" stroke="#9A9A9A" stroke-width="0.45"/>
<line x1="546" y1="318.34" x2="546" y2="324.91" stroke="#9A9A9A" stroke-width="0.45"/>
<line x1="544.4" y1="308.48" x2="546.4" y2="308.48" stroke="#9A9A9A" stroke-width="0.45"/>
<line x1="544.4" y1="321.63" x2="546" y2="321.63" stroke="#9A9A9A" stroke-width="0.45"/>
<line x1="544.4" y1="308.48" x2="544.4" y2="321.63" stroke="#9A9A9A" stroke-width="0.45"/>
<line x1="546.8" y1="331.49" x2="548.6" y2="331.49" stroke="#9A9A9A" stroke-width="0.45"/>
<line x1="546.8" y1="338.06" x2="548.6" y2="338.06" stroke="#9A9A9A" stroke-width="0.45"/>
<line x1="546.8" y1="331.49" x2="546.8" y2="338.06" stroke="#9A9A9A" stroke-width="0.45"/>
<line x1="545.6" y1="334.77" x2="546.8" y2="334.77" stroke="#9A9A9A" stroke-width="0.45"/>
<line x1="545.6" y1="344.63" x2="548.6" y2="344.63" stroke="#9A9A9A" stroke-width="0.45"/>
<line x1="545.6" y1="334.77" x2="545.6" y2="344.63" stroke="#9A9A9A" stroke-width="0.45"/>
<line x1="542" y1="315.05" x2="544.4" y2="315.05" stroke="#9A9A9A" stroke-width="0.45"/>
<line x1="542" y1="339.7" x2="545.6" y2="339.7" stroke="#9A9A9A" stroke-width="0.45"/>
<line x1="542" y1="315.05" x2="542" y2="339.7" stroke="#9A9A9A" stroke-width="0.45"/>
<line x1="539" y1="261.44" x2="540.6" y2="261.44" stroke="#9A9A9A" stroke-width="0.45"/>
<line x1="539" y1="327.38" x2="542" y2="327.38" stroke="#9A9A9A" stroke-width="0.45"/>
<line x1="539" y1="261.44" x2="539" y2="327.38" stroke="#9A9A9A" stroke-width="0.45"/>
<line x1="544.6" y1="351.21" x2="548.6" y2="351.21" stroke="#9A9A9A" stroke-width="0.45"/>
<line x1="544.6" y1="357.78" x2="548.6" y2="357.78" stroke="#9A9A9A" stroke-width="0.45"/>
<line x1="544.6" y1="351.21" x2="544.6" y2="357.78" stroke="#9A9A9A" stroke-width="0.45"/>
<line x1="546.2" y1="364.35" x2="548.6" y2="364.35" stroke="#9A9A9A" stroke-width="0.45"/>
<line x1="546.2" y1="370.93" x2="548.6" y2="370.93" stroke="#9A9A9A" stroke-width="0.45"/>
<line x1="546.2" y1="364.35" x2="546.2" y2="370.93" stroke="#9A9A9A" stroke-width="0.45"/>
<line x1="545" y1="367.64" x2="546.2" y2="367.64" stroke="#9A9A9A" stroke-width="0.45"/>
<line x1="545" y1="377.5" x2="548.6" y2="377.5" stroke="#9A9A9A" stroke-width="0.45"/>
<line x1="545" y1="367.64" x2="545" y2="377.5" stroke="#9A9A9A" stroke-width="0.45"/>
<line x1="546.4" y1="384.07" x2="548.6" y2="384.07" stroke="#9A9A9A" stroke-width="0.45"/>
<line x1="546.4" y1="390.65" x2="548.6" y2="390.65" stroke="#9A9A9A" stroke-width="0.45"/>
<line x1="546.4" y1="384.07" x2="546.4" y2="390.65" stroke="#9A9A9A" stroke-width="0.45"/>
<line x1="543.4" y1="372.57" x2="545" y2="372.57" stroke="#9A9A9A" stroke-width="0.45"/>
<line x1="543.4" y1="387.36" x2="546.4" y2="387.36" stroke="#9A9A9A" stroke-width="0.45"/>
<line x1="543.4" y1="372.57" x2="543.4" y2="387.36" stroke="#9A9A9A" stroke-width="0.45"/>
<line x1="546.8" y1="397.22" x2="548.6" y2="397.22" stroke="#9A9A9A" stroke-width="0.45"/>
<line x1="546.8" y1="403.79" x2="548.6" y2="403.79" stroke="#9A9A9A" stroke-width="0.45"/>
<line x1="546.8" y1="397.22" x2="546.8" y2="403.79" stroke="#9A9A9A" stroke-width="0.45"/>
<line x1="545.4" y1="400.51" x2="546.8" y2="400.51" stroke="#9A9A9A" stroke-width="0.45"/>
<line x1="545.4" y1="410.37" x2="548.6" y2="410.37" stroke="#9A9A9A" stroke-width="0.45"/>
<line x1="545.4" y1="400.51" x2="545.4" y2="410.37" stroke="#9A9A9A" stroke-width="0.45"/>
<line x1="546.4" y1="416.94" x2="548.6" y2="416.94" stroke="#9A9A9A" stroke-width="0.45"/>
<line x1="546.4" y1="423.51" x2="548.6" y2="423.51" stroke="#9A9A9A" stroke-width="0.45"/>
<line x1="546.4" y1="416.94" x2="546.4" y2="423.51" stroke="#9A9A9A" stroke-width="0.45"/>
<line x1="543.8" y1="405.44" x2="545.4" y2="405.44" stroke="#9A9A9A" stroke-width="0.45"/>
<line x1="543.8" y1="420.23" x2="546.4" y2="420.23" stroke="#9A9A9A" stroke-width="0.45"/>
<line x1="543.8" y1="405.44" x2="543.8" y2="420.23" stroke="#9A9A9A" stroke-width="0.45"/>
<line x1="542.2" y1="379.97" x2="543.4" y2="379.97" stroke="#9A9A9A" stroke-width="0.45"/>
<line x1="542.2" y1="412.83" x2="543.8" y2="412.83" stroke="#9A9A9A" stroke-width="0.45"/>
<line x1="542.2" y1="379.97" x2="542.2" y2="412.83" stroke="#9A9A9A" stroke-width="0.45"/>
<line x1="540.2" y1="354.49" x2="544.6" y2="354.49" stroke="#9A9A9A" stroke-width="0.45"/>
<line x1="540.2" y1="396.4" x2="542.2" y2="396.4" stroke="#9A9A9A" stroke-width="0.45"/>
<line x1="540.2" y1="354.49" x2="540.2" y2="396.4" stroke="#9A9A9A" stroke-width="0.45"/>
<line x1="535" y1="294.41" x2="539" y2="294.41" stroke="#9A9A9A" stroke-width="0.45"/>
<line x1="535" y1="375.45" x2="540.2" y2="375.45" stroke="#9A9A9A" stroke-width="0.45"/>
<line x1="535" y1="294.41" x2="535" y2="375.45" stroke="#9A9A9A" stroke-width="0.45"/>
<defs><linearGradient id="hg" x1="0" y1="0" x2="0" y2="1"><stop offset="0" stop-color="#FF0000"/><stop offset="0.5" stop-color="#FFFFFF"/><stop offset="1" stop-color="#0000FF"/></linearGradient></defs>
<rect x="714.3" y="225.4" width="2.8" height="38.8" fill="url(#hg)" stroke="none" stroke-width="0.8"/>
<text transform="translate(718.3 233.15) scale(0.1)" font-size="32" text-anchor="start" fill="#333" stroke="#333" stroke-width="1">2</text>
<text transform="translate(718.3 239.55) scale(0.1)" font-size="32" text-anchor="start" fill="#333" stroke="#333" stroke-width="1">1</text>
<text transform="translate(718.3 246.15) scale(0.1)" font-size="32" text-anchor="start" fill="#333" stroke="#333" stroke-width="1">0</text>
<text transform="translate(718.3 252.35) scale(0.1)" font-size="32" text-anchor="start" fill="#333" stroke="#333" stroke-width="1">- 1</text>
<text transform="translate(718.3 259.05) scale(0.1)" font-size="32" text-anchor="start" fill="#333" stroke="#333" stroke-width="1">- 2</text>
<text transform="translate(723.3 228.12) scale(0.1)" font-size="34" text-anchor="start" fill="#000" font-weight="bold" stroke="#000" stroke-width="1">Group</text>
<rect x="723.3" y="229.2" width="4.6" height="4" fill="#00C453" stroke="none" stroke-width="0.8"/>
<text transform="translate(729 232.39) scale(0.1)" font-size="33" text-anchor="start" fill="#333" stroke="#333" stroke-width="1">CH</text>
<rect x="723.3" y="233.6" width="4.6" height="4" fill="#F8766D" stroke="none" stroke-width="0.8"/>
<text transform="translate(729 236.79) scale(0.1)" font-size="33" text-anchor="start" fill="#333" stroke="#333" stroke-width="1">Control</text>
<rect x="723.3" y="238.1" width="4.6" height="4" fill="#74A9F6" stroke="none" stroke-width="0.8"/>
<text transform="translate(729 241.29) scale(0.1)" font-size="33" text-anchor="start" fill="#333" stroke="#333" stroke-width="1">Model</text>
<text transform="translate(6.3 450.65)" font-size="16.5" text-anchor="start" fill="#000" font-weight="bold">G</text>
<line x1="54.3" y1="439" x2="54.3" y2="625.4" stroke="#9494CC" stroke-width="0.9" stroke-dasharray="1,1"/>
<line x1="88.76" y1="439" x2="88.76" y2="625.4" stroke="#9494CC" stroke-width="0.9" stroke-dasharray="1,1"/>
<line x1="123.22" y1="439" x2="123.22" y2="625.4" stroke="#9494CC" stroke-width="0.9" stroke-dasharray="1,1"/>
<line x1="157.68" y1="439" x2="157.68" y2="625.4" stroke="#9494CC" stroke-width="0.9" stroke-dasharray="1,1"/>
<line x1="192.14" y1="439" x2="192.14" y2="625.4" stroke="#9494CC" stroke-width="0.9" stroke-dasharray="1,1"/>
<line x1="226.6" y1="439" x2="226.6" y2="625.4" stroke="#9494CC" stroke-width="0.9" stroke-dasharray="1,1"/>
<line x1="48" y1="447.8" x2="234" y2="447.8" stroke="#9494CC" stroke-width="0.9" stroke-dasharray="1,1"/>
<line x1="48" y1="478.5" x2="234" y2="478.5" stroke="#9494CC" stroke-width="0.9" stroke-dasharray="1,1"/>
<line x1="48" y1="509.2" x2="234" y2="509.2" stroke="#9494CC" stroke-width="0.9" stroke-dasharray="1,1"/>
<line x1="48" y1="539.9" x2="234" y2="539.9" stroke="#9494CC" stroke-width="0.9" stroke-dasharray="1,1"/>
<line x1="48" y1="570.6" x2="234" y2="570.6" stroke="#9494CC" stroke-width="0.9" stroke-dasharray="1,1"/>
<line x1="48" y1="601.3" x2="234" y2="601.3" stroke="#9494CC" stroke-width="0.9" stroke-dasharray="1,1"/>
<line x1="47.8" y1="447.8" x2="47.8" y2="601.3" stroke="#444" stroke-width="0.75"/>
<line x1="54.3" y1="625.4" x2="226.6" y2="625.4" stroke="#444" stroke-width="0.75"/>
<line x1="44.1" y1="447.8" x2="47.8" y2="447.8" stroke="#444" stroke-width="0.75"/>
<text transform="translate(41.15 447.8) rotate(-90) scale(0.1)" font-size="57" text-anchor="middle" fill="#222" stroke="#222" stroke-width="1">3.0</text>
<line x1="44.1" y1="478.5" x2="47.8" y2="478.5" stroke="#444" stroke-width="0.75"/>
<text transform="translate(41.15 478.5) rotate(-90) scale(0.1)" font-size="57" text-anchor="middle" fill="#222" stroke="#222" stroke-width="1">2.5</text>
<line x1="44.1" y1="509.2" x2="47.8" y2="509.2" stroke="#444" stroke-width="0.75"/>
<text transform="translate(41.15 509.2) rotate(-90) scale(0.1)" font-size="57" text-anchor="middle" fill="#222" stroke="#222" stroke-width="1">2.0</text>
<line x1="44.1" y1="539.9" x2="47.8" y2="539.9" stroke="#444" stroke-width="0.75"/>
<text transform="translate(41.15 539.9) rotate(-90) scale(0.1)" font-size="57" text-anchor="middle" fill="#222" stroke="#222" stroke-width="1">1.5</text>
<line x1="44.1" y1="570.6" x2="47.8" y2="570.6" stroke="#444" stroke-width="0.75"/>
<text transform="translate(41.15 570.6) rotate(-90) scale(0.1)" font-size="57" text-anchor="middle" fill="#222" stroke="#222" stroke-width="1">1.0</text>
<line x1="44.1" y1="601.3" x2="47.8" y2="601.3" stroke="#444" stroke-width="0.75"/>
<text transform="translate(41.15 601.3) rotate(-90) scale(0.1)" font-size="57" text-anchor="middle" fill="#222" stroke="#222" stroke-width="1">0.5</text>
<line x1="54.3" y1="625.4" x2="54.3" y2="628.4" stroke="#444" stroke-width="0.75"/>
<text transform="translate(54.3 638.05) scale(0.1)" font-size="57" text-anchor="middle" fill="#222" stroke="#222" stroke-width="1">0.0</text>
<line x1="88.76" y1="625.4" x2="88.76" y2="628.4" stroke="#444" stroke-width="0.75"/>
<text transform="translate(88.76 638.05) scale(0.1)" font-size="57" text-anchor="middle" fill="#222" stroke="#222" stroke-width="1">0.2</text>
<line x1="123.22" y1="625.4" x2="123.22" y2="628.4" stroke="#444" stroke-width="0.75"/>
<text transform="translate(123.22 638.05) scale(0.1)" font-size="57" text-anchor="middle" fill="#222" stroke="#222" stroke-width="1">0.4</text>
<line x1="157.68" y1="625.4" x2="157.68" y2="628.4" stroke="#444" stroke-width="0.75"/>
<text transform="translate(157.68 638.05) scale(0.1)" font-size="57" text-anchor="middle" fill="#222" stroke="#222" stroke-width="1">0.6</text>
<line x1="192.14" y1="625.4" x2="192.14" y2="628.4" stroke="#444" stroke-width="0.75"/>
<text transform="translate(192.14 638.05) scale(0.1)" font-size="57" text-anchor="middle" fill="#222" stroke="#222" stroke-width="1">0.8</text>
<line x1="226.6" y1="625.4" x2="226.6" y2="628.4" stroke="#444" stroke-width="0.75"/>
<text transform="translate(226.6 638.05) scale(0.1)" font-size="57" text-anchor="middle" fill="#222" stroke="#222" stroke-width="1">1.0</text>
<text transform="translate(140.45 652.46) scale(0.1)" font-size="60" text-anchor="middle" fill="#222" stroke="#222" stroke-width="1">Pathway Impact</text>
<text transform="translate(27.18 534) rotate(-90) scale(0.1)" font-size="55" text-anchor="middle" fill="#222" stroke="#222" stroke-width="1">-log10(p)</text>
<circle cx="54.5" cy="616.5" r="1.18" fill="#FFF8A0" stroke="#2A1A10" stroke-width="0.6"/>
<circle cx="54.5" cy="618.3" r="1.18" fill="#FFFAB0" stroke="#2A1A10" stroke-width="0.6"/>
<circle cx="54.5" cy="614.4" r="1.18" fill="#FFF590" stroke="#2A1A10" stroke-width="0.6"/>
<circle cx="79.1" cy="618.4" r="2.63" fill="#FFFFF0" stroke="#2A1A10" stroke-width="0.6"/>
<circle cx="98.3" cy="611.4" r="2.86" fill="#FFF530" stroke="#2A1A10" stroke-width="0.6"/>
<circle cx="64.4" cy="610.5" r="2.35" fill="#FFF020" stroke="#2A1A10" stroke-width="0.6"/>
<circle cx="71.8" cy="609.9" r="2.35" fill="#FFF020" stroke="#2A1A10" stroke-width="0.6"/>
<circle cx="54.5" cy="605" r="1.18" fill="#FFE830" stroke="#2A1A10" stroke-width="0.6"/>
<circle cx="54.5" cy="607.5" r="1.18" fill="#FFEC40" stroke="#2A1A10" stroke-width="0.6"/>
<circle cx="58.2" cy="603.2" r="1.68" fill="#FFE800" stroke="#2A1A10" stroke-width="0.6"/>
<circle cx="92.3" cy="599.4" r="2.63" fill="#FFD800" stroke="#2A1A10" stroke-width="0.6"/>
<circle cx="94.7" cy="599.6" r="2.86" fill="#FFE600" stroke="#2A1A10" stroke-width="0.6"/>
<circle cx="56.7" cy="596.8" r="1.68" fill="#FFC800" stroke="#2A1A10" stroke-width="0.6"/>
<circle cx="54.5" cy="592.6" r="1.18" fill="#FFB000" stroke="#2A1A10" stroke-width="0.6"/>
<circle cx="54.5" cy="594.3" r="1.18" fill="#FFB800" stroke="#2A1A10" stroke-width="0.6"/>
<circle cx="54.5" cy="580.8" r="1.18" fill="#FF9900" stroke="#2A1A10" stroke-width="0.6"/>
<circle cx="54.5" cy="583" r="1.18" fill="#FF9C00" stroke="#2A1A10" stroke-width="0.6"/>
<circle cx="54.5" cy="585.1" r="1.18" fill="#FFA000" stroke="#2A1A10" stroke-width="0.6"/>
<circle cx="55" cy="575.1" r="1.46" fill="#FF8800" stroke="#2A1A10" stroke-width="0.6"/>
<circle cx="226.4" cy="571.3" r="4.82" fill="#FF7A00" stroke="#2A1A10" stroke-width="0.6"/>
<circle cx="140.4" cy="565.5" r="3.58" fill="#FF6A00" stroke="#2A1A10" stroke-width="0.6"/>
<circle cx="123.1" cy="561.8" r="3.58" fill="#FF6600" stroke="#2A1A10" stroke-width="0.6"/>
<circle cx="63.1" cy="561.6" r="1.9" fill="#FF6000" stroke="#2A1A10" stroke-width="0.6"/>
<circle cx="82.9" cy="555.9" r="2.63" fill="#FF5000" stroke="#2A1A10" stroke-width="0.6"/>
<circle cx="62.2" cy="551.2" r="1.9" fill="#FF4A00" stroke="#2A1A10" stroke-width="0.6"/>
<circle cx="111.5" cy="545.2" r="3.36" fill="#FF4400" stroke="#2A1A10" stroke-width="0.6"/>
<circle cx="54.5" cy="545.2" r="1.23" fill="#E83800" stroke="#2A1A10" stroke-width="0.6"/>
<circle cx="95.3" cy="509.7" r="2.69" fill="#FF2A00" stroke="#2A1A10" stroke-width="0.6"/>
<circle cx="75.3" cy="502.2" r="2.35" fill="#FF2200" stroke="#2A1A10" stroke-width="0.6"/>
<circle cx="70.5" cy="496" r="2.35" fill="#FF2000" stroke="#2A1A10" stroke-width="0.6"/>
<circle cx="54.6" cy="475" r="1.23" fill="#D01800" stroke="#2A1A10" stroke-width="0.6"/>
<circle cx="107" cy="474.2" r="3.14" fill="#FF1400" stroke="#2A1A10" stroke-width="0.6"/>
<circle cx="90.3" cy="446.3" r="2.58" fill="#FF0A00" stroke="#2A1A10" stroke-width="0.6"/>
<text transform="translate(111.1 455.48) scale(0.1)" font-size="55" text-anchor="start" fill="#111" stroke="#111" stroke-width="1">Arginine and proline metabolism</text>
<line x1="109.5" y1="451.8" x2="97.3" y2="447.8" stroke="#000" stroke-width="0.8"/>
<line x1="97.3" y1="447.8" x2="100.07" y2="450.68" stroke="#000" stroke-width="0.8"/>
<line x1="97.3" y1="447.8" x2="101.24" y2="447.12" stroke="#000" stroke-width="0.8"/>
<text transform="translate(126.5 467.58) scale(0.1)" font-size="55" text-anchor="start" fill="#111" stroke="#111" stroke-width="1">Arginine biosynthesis</text>
<line x1="124.4" y1="468.2" x2="113.2" y2="472" stroke="#000" stroke-width="0.8"/>
<line x1="113.2" y1="472" x2="117.15" y2="472.64" stroke="#000" stroke-width="0.8"/>
<line x1="113.2" y1="472" x2="115.94" y2="469.09" stroke="#000" stroke-width="0.8"/>
<text transform="translate(54 481.88) scale(0.1)" font-size="55" text-anchor="start" fill="#111" stroke="#111" stroke-width="1">Glycerophospholipid metabolism</text>
<line x1="81.7" y1="486.8" x2="73.6" y2="492.3" stroke="#000" stroke-width="0.8"/>
<line x1="73.6" y1="492.3" x2="77.58" y2="491.87" stroke="#000" stroke-width="0.8"/>
<line x1="73.6" y1="492.3" x2="75.47" y2="488.76" stroke="#000" stroke-width="0.8"/>
<text transform="translate(92 490.48) scale(0.1)" font-size="55" text-anchor="start" fill="#111" stroke="#111" stroke-width="1">Citrate cycle(TCA cycle)</text>
<line x1="90.6" y1="493.5" x2="79.6" y2="499.1" stroke="#000" stroke-width="0.8"/>
<line x1="79.6" y1="499.1" x2="83.6" y2="499.17" stroke="#000" stroke-width="0.8"/>
<line x1="79.6" y1="499.1" x2="81.9" y2="495.82" stroke="#000" stroke-width="0.8"/>
<text transform="translate(113.8 501.08) scale(0.1)" font-size="55" text-anchor="start" fill="#111" stroke="#111" stroke-width="1">Pyruvate metabolism</text>
<line x1="111.8" y1="502.6" x2="100.9" y2="507.2" stroke="#000" stroke-width="0.8"/>
<line x1="100.9" y1="507.2" x2="104.88" y2="507.56" stroke="#000" stroke-width="0.8"/>
<line x1="100.9" y1="507.2" x2="103.42" y2="504.1" stroke="#000" stroke-width="0.8"/>
<text transform="translate(49.5 528.58) scale(0.1)" font-size="55" text-anchor="start" fill="#111" stroke="#111" stroke-width="1">Purine metabolism</text>
<line x1="57.7" y1="532.7" x2="56.1" y2="541.5" stroke="#000" stroke-width="0.8"/>
<line x1="56.1" y1="541.5" x2="58.58" y2="538.36" stroke="#000" stroke-width="0.8"/>
<line x1="56.1" y1="541.5" x2="54.88" y2="537.69" stroke="#000" stroke-width="0.8"/>
<text transform="translate(104.5 528.78) scale(0.1)" font-size="55" text-anchor="start" fill="#111" stroke="#111" stroke-width="1">Arachidonic acid metabolism</text>
<line x1="116.9" y1="541.1" x2="124.7" y2="532.7" stroke="#000" stroke-width="0.8"/>
<line x1="124.7" y1="532.7" x2="120.92" y2="534.01" stroke="#000" stroke-width="0.8"/>
<line x1="124.7" y1="532.7" x2="123.67" y2="536.57" stroke="#000" stroke-width="0.8"/>
<text transform="translate(63.1 537.98) scale(0.1)" font-size="55" text-anchor="start" fill="#111" stroke="#111" stroke-width="1">Tyrosine metabolism</text>
<line x1="87.5" y1="543" x2="84" y2="550.8" stroke="#000" stroke-width="0.8"/>
<line x1="84" y1="550.8" x2="87.16" y2="548.35" stroke="#000" stroke-width="0.8"/>
<line x1="84" y1="550.8" x2="83.73" y2="546.81" stroke="#000" stroke-width="0.8"/>
<text transform="translate(128.1 545.18) scale(0.1)" font-size="55" text-anchor="start" fill="#111" stroke="#111" stroke-width="1">beta-Alanine metabolism</text>
<line x1="143.1" y1="560" x2="150.7" y2="550.4" stroke="#000" stroke-width="0.8"/>
<line x1="150.7" y1="550.4" x2="147.04" y2="552" stroke="#000" stroke-width="0.8"/>
<line x1="150.7" y1="550.4" x2="149.98" y2="554.33" stroke="#000" stroke-width="0.8"/>
<text transform="translate(63.5 580.08) scale(0.1)" font-size="55" text-anchor="start" fill="#111" stroke="#111" stroke-width="1">alanine, aspartate and glutamate metabolism</text>
<line x1="71.7" y1="574.4" x2="65.5" y2="565.6" stroke="#000" stroke-width="0.8"/>
<line x1="65.5" y1="565.6" x2="66" y2="569.57" stroke="#000" stroke-width="0.8"/>
<line x1="65.5" y1="565.6" x2="69.07" y2="567.41" stroke="#000" stroke-width="0.8"/>
<text transform="translate(103.1 593.38) scale(0.1)" font-size="55" text-anchor="start" fill="#111" stroke="#111" stroke-width="1">phenylalanine, tyrosine and tryptophan biosynthesis</text>
<line x1="215.6" y1="586.2" x2="223.6" y2="576.8" stroke="#000" stroke-width="0.8"/>
<line x1="223.6" y1="576.8" x2="219.88" y2="578.27" stroke="#000" stroke-width="0.8"/>
<line x1="223.6" y1="576.8" x2="222.74" y2="580.71" stroke="#000" stroke-width="0.8"/>
<text transform="translate(248.6 448.85)" font-size="16.5" text-anchor="start" fill="#000" font-weight="bold">H</text>
<line x1="300" y1="437" x2="300" y2="625.4" stroke="#6666EE" stroke-width="0.9" stroke-dasharray="1,1"/>
<line x1="334.85" y1="437" x2="334.85" y2="625.4" stroke="#6666EE" stroke-width="0.9" stroke-dasharray="1,1"/>
<line x1="369.7" y1="437" x2="369.7" y2="625.4" stroke="#6666EE" stroke-width="0.9" stroke-dasharray="1,1"/>
<line x1="404.55" y1="437" x2="404.55" y2="625.4" stroke="#6666EE" stroke-width="0.9" stroke-dasharray="1,1"/>
<line x1="439.4" y1="437" x2="439.4" y2="625.4" stroke="#6666EE" stroke-width="0.9" stroke-dasharray="1,1"/>
<line x1="474.25" y1="437" x2="474.25" y2="625.4" stroke="#6666EE" stroke-width="0.9" stroke-dasharray="1,1"/>
<line x1="294" y1="441.4" x2="481.5" y2="441.4" stroke="#6666EE" stroke-width="0.9" stroke-dasharray="1,1"/>
<line x1="294" y1="465.7" x2="481.5" y2="465.7" stroke="#6666EE" stroke-width="0.9" stroke-dasharray="1,1"/>
<line x1="294" y1="490" x2="481.5" y2="490" stroke="#6666EE" stroke-width="0.9" stroke-dasharray="1,1"/>
<line x1="294" y1="514.3" x2="481.5" y2="514.3" stroke="#6666EE" stroke-width="0.9" stroke-dasharray="1,1"/>
<line x1="294" y1="538.6" x2="481.5" y2="538.6" stroke="#6666EE" stroke-width="0.9" stroke-dasharray="1,1"/>
<line x1="294" y1="562.9" x2="481.5" y2="562.9" stroke="#6666EE" stroke-width="0.9" stroke-dasharray="1,1"/>
<line x1="294" y1="587.2" x2="481.5" y2="587.2" stroke="#6666EE" stroke-width="0.9" stroke-dasharray="1,1"/>
<line x1="294" y1="611.5" x2="481.5" y2="611.5" stroke="#6666EE" stroke-width="0.9" stroke-dasharray="1,1"/>
<line x1="293.5" y1="441.4" x2="293.5" y2="611.5" stroke="#444" stroke-width="0.75"/>
<line x1="300" y1="625.4" x2="474.25" y2="625.4" stroke="#444" stroke-width="0.75"/>
<line x1="289.2" y1="441.4" x2="293.5" y2="441.4" stroke="#444" stroke-width="0.75"/>
<text transform="translate(285.85 441.4) rotate(-90) scale(0.1)" font-size="57" text-anchor="middle" fill="#222" stroke="#222" stroke-width="1">4.0</text>
<line x1="289.2" y1="465.7" x2="293.5" y2="465.7" stroke="#444" stroke-width="0.75"/>
<text transform="translate(285.85 465.7) rotate(-90) scale(0.1)" font-size="57" text-anchor="middle" fill="#222" stroke="#222" stroke-width="1">3.5</text>
<line x1="289.2" y1="490" x2="293.5" y2="490" stroke="#444" stroke-width="0.75"/>
<text transform="translate(285.85 490) rotate(-90) scale(0.1)" font-size="57" text-anchor="middle" fill="#222" stroke="#222" stroke-width="1">3.0</text>
<line x1="289.2" y1="514.3" x2="293.5" y2="514.3" stroke="#444" stroke-width="0.75"/>
<text transform="translate(285.85 514.3) rotate(-90) scale(0.1)" font-size="57" text-anchor="middle" fill="#222" stroke="#222" stroke-width="1">2.5</text>
<line x1="289.2" y1="538.6" x2="293.5" y2="538.6" stroke="#444" stroke-width="0.75"/>
<text transform="translate(285.85 538.6) rotate(-90) scale(0.1)" font-size="57" text-anchor="middle" fill="#222" stroke="#222" stroke-width="1">2.0</text>
<line x1="289.2" y1="562.9" x2="293.5" y2="562.9" stroke="#444" stroke-width="0.75"/>
<text transform="translate(285.85 562.9) rotate(-90) scale(0.1)" font-size="57" text-anchor="middle" fill="#222" stroke="#222" stroke-width="1">1.5</text>
<line x1="289.2" y1="587.2" x2="293.5" y2="587.2" stroke="#444" stroke-width="0.75"/>
<text transform="translate(285.85 587.2) rotate(-90) scale(0.1)" font-size="57" text-anchor="middle" fill="#222" stroke="#222" stroke-width="1">1.0</text>
<line x1="289.2" y1="611.5" x2="293.5" y2="611.5" stroke="#444" stroke-width="0.75"/>
<text transform="translate(285.85 611.5) rotate(-90) scale(0.1)" font-size="57" text-anchor="middle" fill="#222" stroke="#222" stroke-width="1">0.5</text>
<line x1="300" y1="625.4" x2="300" y2="628.4" stroke="#444" stroke-width="0.75"/>
<text transform="translate(300 638.25) scale(0.1)" font-size="57" text-anchor="middle" fill="#222" stroke="#222" stroke-width="1">0.0</text>
<line x1="334.85" y1="625.4" x2="334.85" y2="628.4" stroke="#444" stroke-width="0.75"/>
<text transform="translate(334.85 638.25) scale(0.1)" font-size="57" text-anchor="middle" fill="#222" stroke="#222" stroke-width="1">0.1</text>
<line x1="369.7" y1="625.4" x2="369.7" y2="628.4" stroke="#444" stroke-width="0.75"/>
<text transform="translate(369.7 638.25) scale(0.1)" font-size="57" text-anchor="middle" fill="#222" stroke="#222" stroke-width="1">0.2</text>
<line x1="404.55" y1="625.4" x2="404.55" y2="628.4" stroke="#444" stroke-width="0.75"/>
<text transform="translate(404.55 638.25) scale(0.1)" font-size="57" text-anchor="middle" fill="#222" stroke="#222" stroke-width="1">0.3</text>
<line x1="439.4" y1="625.4" x2="439.4" y2="628.4" stroke="#444" stroke-width="0.75"/>
<text transform="translate(439.4 638.25) scale(0.1)" font-size="57" text-anchor="middle" fill="#222" stroke="#222" stroke-width="1">0.4</text>
<line x1="474.25" y1="625.4" x2="474.25" y2="628.4" stroke="#444" stroke-width="0.75"/>
<text transform="translate(474.25 638.25) scale(0.1)" font-size="57" text-anchor="middle" fill="#222" stroke="#222" stroke-width="1">0.5</text>
<text transform="translate(387.12 652.86) scale(0.1)" font-size="60" text-anchor="middle" fill="#222" stroke="#222" stroke-width="1">Pathway Impact</text>
<text transform="translate(274.58 530.1) rotate(-90) scale(0.1)" font-size="55" text-anchor="middle" fill="#222" stroke="#222" stroke-width="1">-log10(p)</text>
<circle cx="300" cy="617" r="1.6" fill="#FFFFC8" stroke="#2A1A10" stroke-width="0.6"/>
<circle cx="300" cy="614.5" r="1.6" fill="#FFF8A0" stroke="#2A1A10" stroke-width="0.6"/>
<circle cx="300" cy="611.8" r="1.6" fill="#FFF070" stroke="#2A1A10" stroke-width="0.6"/>
<circle cx="300" cy="609" r="1.6" fill="#FFE850" stroke="#2A1A10" stroke-width="0.6"/>
<circle cx="349.8" cy="618.5" r="3.9" fill="#FFFFE8" stroke="#2A1A10" stroke-width="0.6"/>
<circle cx="389" cy="611.9" r="4.8" fill="#FFF020" stroke="#2A1A10" stroke-width="0.6"/>
<circle cx="334.7" cy="610.5" r="3.5" fill="#FFE800" stroke="#2A1A10" stroke-width="0.6"/>
<circle cx="320.2" cy="611.2" r="3" fill="#FFE000" stroke="#2A1A10" stroke-width="0.6"/>
<circle cx="299.9" cy="605.8" r="1.9" fill="#FFC800" stroke="#2A1A10" stroke-width="0.6"/>
<circle cx="301.3" cy="606.9" r="1.9" fill="#FFD400" stroke="#2A1A10" stroke-width="0.6"/>
<circle cx="316.3" cy="605.8" r="2.8" fill="#FFB300" stroke="#2A1A10" stroke-width="0.6"/>
<circle cx="307.4" cy="604.6" r="2.6" fill="#FF9900" stroke="#2A1A10" stroke-width="0.6"/>
<circle cx="372.1" cy="607.7" r="4.6" fill="#FFC000" stroke="#2A1A10" stroke-width="0.6"/>
<circle cx="376.8" cy="601.6" r="4.4" fill="#FF8C00" stroke="#2A1A10" stroke-width="0.6"/>
<circle cx="300" cy="596.2" r="1.5" fill="#FF8800" stroke="#2A1A10" stroke-width="0.6"/>
<circle cx="300" cy="590.5" r="1.5" fill="#FF7000" stroke="#2A1A10" stroke-width="0.6"/>
<circle cx="348.2" cy="589.5" r="3.8" fill="#FF6600" stroke="#2A1A10" stroke-width="0.6"/>
<circle cx="300" cy="582.1" r="1.5" fill="#F05A00" stroke="#2A1A10" stroke-width="0.6"/>
<circle cx="300" cy="584" r="1.5" fill="#F05A00" stroke="#2A1A10" stroke-width="0.6"/>
<circle cx="322.6" cy="584" r="3.2" fill="#F05000" stroke="#2A1A10" stroke-width="0.6"/>
<circle cx="474" cy="573.8" r="6.6" fill="#FF3A00" stroke="#2A1A10" stroke-width="0.6"/>
<circle cx="439.2" cy="563.3" r="5.9" fill="#FF3300" stroke="#2A1A10" stroke-width="0.6"/>
<circle cx="405.8" cy="547.3" r="5.5" fill="#FF2200" stroke="#2A1A10" stroke-width="0.6"/>
<circle cx="315.6" cy="541" r="3.1" fill="#FF1100" stroke="#2A1A10" stroke-width="0.6"/>
<circle cx="300" cy="468.3" r="1.5" fill="#E00000" stroke="#2A1A10" stroke-width="0.6"/>
<circle cx="372.4" cy="444.3" r="4.9" fill="#FF0000" stroke="#2A1A10" stroke-width="0.6"/>
<text transform="translate(398.3 445.92) scale(0.1)" font-size="45" text-anchor="start" fill="#111" stroke="#111" stroke-width="1">Arginine and proline metabolism</text>
<line x1="394.4" y1="444.3" x2="382.4" y2="444.3" stroke="#000" stroke-width="0.8"/>
<line x1="382.4" y1="444.3" x2="385.58" y2="445.99" stroke="#000" stroke-width="0.8"/>
<line x1="382.4" y1="444.3" x2="385.58" y2="442.61" stroke="#000" stroke-width="0.8"/>
<text transform="translate(302 520.42) scale(0.1)" font-size="45" text-anchor="start" fill="#111" stroke="#111" stroke-width="1">Purine metabolism</text>
<line x1="318.4" y1="524.2" x2="317.1" y2="535" stroke="#000" stroke-width="0.8"/>
<line x1="317.1" y1="535" x2="319.16" y2="532.05" stroke="#000" stroke-width="0.8"/>
<line x1="317.1" y1="535" x2="315.8" y2="531.64" stroke="#000" stroke-width="0.8"/>
<text transform="translate(372.8 522.02) scale(0.1)" font-size="45" text-anchor="start" fill="#111" stroke="#111" stroke-width="1">Arginine biosynthesis</text>
<line x1="396" y1="524.8" x2="401.9" y2="538.5" stroke="#000" stroke-width="0.8"/>
<line x1="401.9" y1="538.5" x2="402.2" y2="534.91" stroke="#000" stroke-width="0.8"/>
<line x1="401.9" y1="538.5" x2="399.09" y2="536.25" stroke="#000" stroke-width="0.8"/>
<text transform="translate(421.9 536.82) scale(0.1)" font-size="45" text-anchor="start" fill="#111" stroke="#111" stroke-width="1">beta-Alanine metabolism</text>
<line x1="442.2" y1="541" x2="440.3" y2="554.5" stroke="#000" stroke-width="0.8"/>
<line x1="440.3" y1="554.5" x2="442.42" y2="551.59" stroke="#000" stroke-width="0.8"/>
<line x1="440.3" y1="554.5" x2="439.07" y2="551.12" stroke="#000" stroke-width="0.8"/>
<text transform="translate(293.9 566.12) scale(0.1)" font-size="45" text-anchor="start" fill="#111" stroke="#111" stroke-width="1">Glycerophospholipid metabolism</text>
<line x1="325.4" y1="569.1" x2="323.6" y2="579.3" stroke="#000" stroke-width="0.8"/>
<line x1="323.6" y1="579.3" x2="325.82" y2="576.46" stroke="#000" stroke-width="0.8"/>
<line x1="323.6" y1="579.3" x2="322.49" y2="575.88" stroke="#000" stroke-width="0.8"/>
<text transform="translate(369.6 594.82) scale(0.1)" font-size="45" fill="#111" stroke="#111" stroke-width="1" word-spacing="32">Phenylalanine, tyrosine and tryptophan biosynthesis</text>
<line x1="452.7" y1="589.7" x2="467.9" y2="580.2" stroke="#000" stroke-width="0.8"/>
<line x1="467.9" y1="580.2" x2="464.31" y2="580.45" stroke="#000" stroke-width="0.8"/>
<line x1="467.9" y1="580.2" x2="466.1" y2="583.32" stroke="#000" stroke-width="0.8"/>
</svg>
</body></html>
